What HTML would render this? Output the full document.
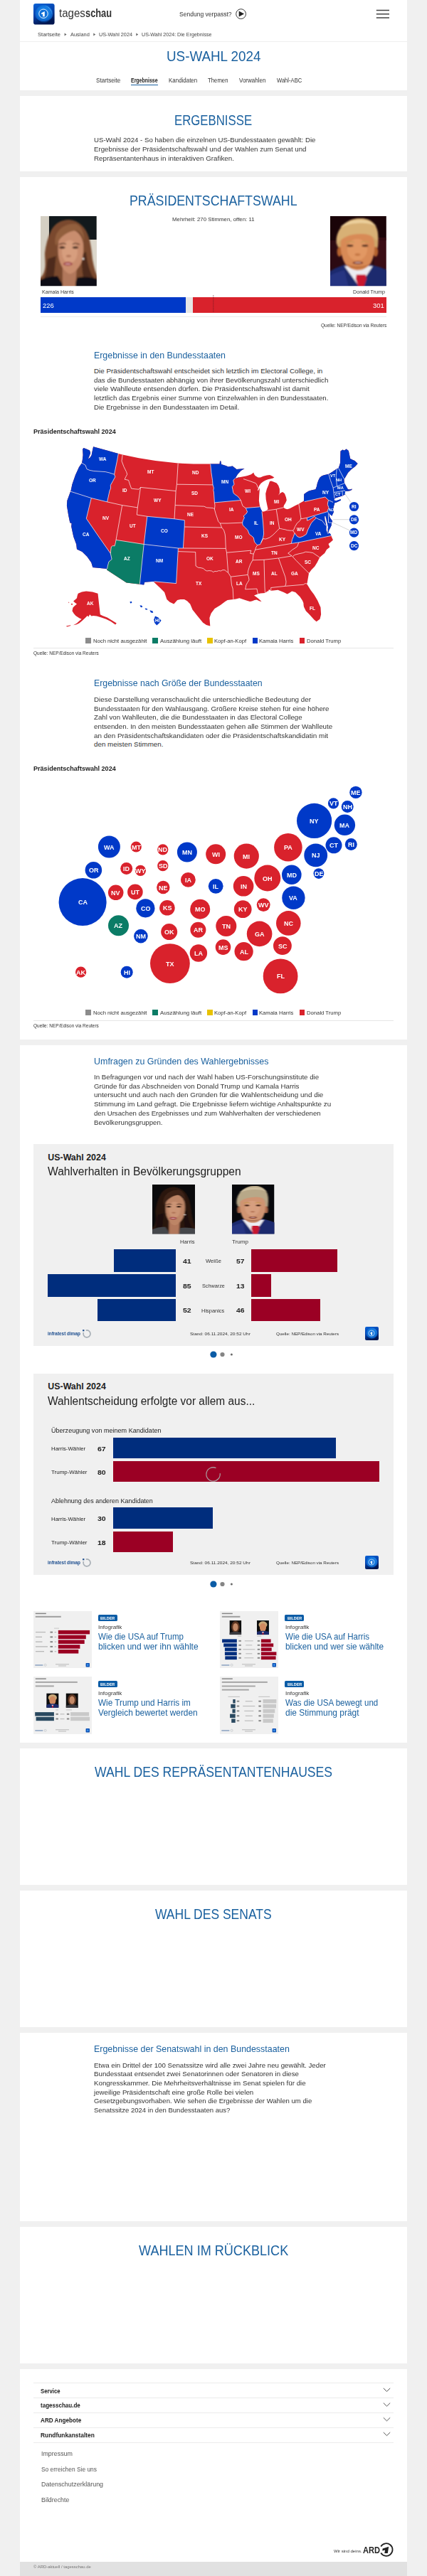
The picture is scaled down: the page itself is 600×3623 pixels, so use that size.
<!DOCTYPE html><html lang="de"><head><meta charset="utf-8"><title>US-Wahl 2024: Die Ergebnisse</title><style>
html,body{margin:0;padding:0}
body{width:600px;height:3623px;background:#f0f0f0;position:relative;overflow-x:hidden;font-family:"Liberation Sans",sans-serif}
.r{position:absolute}
.t{position:absolute;white-space:nowrap;line-height:1;transform-origin:0 0;display:block}
.ov{position:absolute;display:block;overflow:visible}
</style></head><body>
<div class="r" style="left:28px;top:0px;width:544px;height:127px;background:#fff;"></div>
<div class="r" style="left:28px;top:135px;width:544px;height:106px;background:#fff;"></div>
<div class="r" style="left:28px;top:249px;width:544px;height:1213px;background:#fff;"></div>
<div class="r" style="left:28px;top:1470px;width:544px;height:981px;background:#fff;"></div>
<div class="r" style="left:28px;top:2459px;width:544px;height:192px;background:#fff;"></div>
<div class="r" style="left:28px;top:2659px;width:544px;height:192px;background:#fff;"></div>
<div class="r" style="left:28px;top:2859px;width:544px;height:265px;background:#fff;"></div>
<div class="r" style="left:28px;top:3132px;width:544px;height:192px;background:#fff;"></div>
<div class="r" style="left:28px;top:3332px;width:544px;height:271px;background:#fff;"></div>
<div class="r" style="left:28px;top:3603px;width:544px;height:20px;background:#e1e1e1;"></div>
<div class="r" style="left:28px;top:58px;width:544px;height:1px;background:#efefef;"></div>
<div class="r" style="left:184.3px;top:118.6px;width:37.5px;height:1.4px;background:#1b619f;"></div>
<div class="r" style="left:57px;top:418.3px;width:204px;height:21.5px;background:#0039c8;"></div>
<div class="r" style="left:261px;top:418.3px;width:10px;height:21.5px;background:#e6e6e6;"></div>
<div class="r" style="left:271px;top:418.3px;width:272px;height:21.5px;background:#d9222c;"></div>
<div class="r" style="left:57px;top:445.2px;width:486px;height:1px;background:#ececec;"></div>
<div class="r" style="left:120.3px;top:896.7px;width:7.7px;height:7.9px;background:#8c8c8c;"></div>
<div class="r" style="left:214.4px;top:896.7px;width:7.7px;height:7.9px;background:#0b7c66;"></div>
<div class="r" style="left:290.9px;top:896.7px;width:7.7px;height:7.9px;background:#e8c200;"></div>
<div class="r" style="left:354.5px;top:896.7px;width:7.7px;height:7.9px;background:#0039c8;"></div>
<div class="r" style="left:420.6px;top:896.7px;width:7.7px;height:7.9px;background:#d9222c;"></div>
<div class="r" style="left:47px;top:911.1px;width:506px;height:1px;background:#e6e6e6;"></div>
<div class="r" style="left:120.3px;top:1420.2px;width:7.7px;height:7.9px;background:#8c8c8c;"></div>
<div class="r" style="left:214.4px;top:1420.2px;width:7.7px;height:7.9px;background:#0b7c66;"></div>
<div class="r" style="left:290.9px;top:1420.2px;width:7.7px;height:7.9px;background:#e8c200;"></div>
<div class="r" style="left:354.5px;top:1420.2px;width:7.7px;height:7.9px;background:#0039c8;"></div>
<div class="r" style="left:420.6px;top:1420.2px;width:7.7px;height:7.9px;background:#d9222c;"></div>
<div class="r" style="left:47px;top:1434.6000000000001px;width:506px;height:1px;background:#e6e6e6;"></div>
<div class="r" style="left:47px;top:1609.2px;width:506px;height:284px;background:#f0f0f0;"></div>
<div class="r" style="left:159.921px;top:1757.4px;width:86.879px;height:31.2px;background:#002d7d;"></div>
<div class="r" style="left:353.2px;top:1757.4px;width:120.441px;height:31.2px;background:#9b0024;"></div>
<div class="r" style="left:66.685px;top:1792.4px;width:180.115px;height:31.2px;background:#002d7d;"></div>
<div class="r" style="left:353.2px;top:1792.4px;width:27.469px;height:31.2px;background:#9b0024;"></div>
<div class="r" style="left:136.612px;top:1827.2px;width:110.18800000000002px;height:31.2px;background:#002d7d;"></div>
<div class="r" style="left:353.2px;top:1827.2px;width:97.198px;height:31.2px;background:#9b0024;"></div>
<div class="r" style="left:47px;top:1931.5px;width:506px;height:283.9px;background:#f0f0f0;"></div>
<div class="r" style="left:159.4px;top:2021.5px;width:312.75600000000003px;height:29.8px;background:#002d7d;"></div>
<div class="r" style="left:159.4px;top:2054.6px;width:373.44px;height:29.8px;background:#9b0024;"></div>
<div class="r" style="left:159.4px;top:2120.3px;width:140.04px;height:29.8px;background:#002d7d;"></div>
<div class="r" style="left:159.4px;top:2153.5px;width:84.024px;height:29.8px;background:#9b0024;"></div>
<div class="r" style="left:47px;top:2265.5px;width:81.5px;height:80.5px;background:#f0f0f0;"></div>
<div class="r" style="left:138.0px;top:2271.4px;width:27px;height:9px;background:#0b5ca6;border-radius:1.6px;"></div>
<div class="r" style="left:309px;top:2265.5px;width:81.5px;height:80.5px;background:#f0f0f0;"></div>
<div class="r" style="left:400.40000000000003px;top:2271.4px;width:27px;height:9px;background:#0b5ca6;border-radius:1.6px;"></div>
<div class="r" style="left:47px;top:2358.4px;width:81.5px;height:80.5px;background:#f0f0f0;"></div>
<div class="r" style="left:138.0px;top:2364.3px;width:27px;height:9px;background:#0b5ca6;border-radius:1.6px;"></div>
<div class="r" style="left:309px;top:2358.4px;width:81.5px;height:80.5px;background:#f0f0f0;"></div>
<div class="r" style="left:400.40000000000003px;top:2364.3px;width:27px;height:9px;background:#0b5ca6;border-radius:1.6px;"></div>
<div class="r" style="left:47.4px;top:3351.2px;width:505.4px;height:1px;background:#ebebeb;"></div>
<div class="r" style="left:47.4px;top:3372.2px;width:505.4px;height:1px;background:#ebebeb;"></div>
<div class="r" style="left:47.4px;top:3393.2px;width:505.4px;height:1px;background:#ebebeb;"></div>
<div class="r" style="left:47.4px;top:3414px;width:505.4px;height:1px;background:#ebebeb;"></div>
<div class="r" style="left:47.4px;top:3434.6px;width:505.4px;height:1px;background:#ebebeb;"></div>
<svg class="ov" style="left:47.3px;top:4.9px" width="29.6" height="29.6" viewBox="0 0 30 30">
<defs><linearGradient id="lga" x1="0" y1="0" x2="0.35" y2="1"><stop offset="0" stop-color="#0a63d8"/><stop offset="0.55" stop-color="#0440a8"/><stop offset="1" stop-color="#00164f"/></linearGradient>
<radialGradient id="rga" cx="0.5" cy="0.45" r="0.55"><stop offset="0" stop-color="#3aa0f5"/><stop offset="0.6" stop-color="#1580e6"/><stop offset="1" stop-color="#0a55c0"/></radialGradient></defs>
<rect x="0" y="0" width="30" height="30" rx="3.2" fill="url(#lga)"/>
<circle cx="15" cy="14.5" r="12.6" fill="url(#rga)" opacity="0.9"/>
<path d="M4 21 A12.6 12.6 0 0 0 27 19 A15 15 0 0 1 4 21Z" fill="#001a55" opacity="0.6"/>
<path d="M16 3.4 A11.5 11.5 0 0 1 26.5 16 A14 14 0 0 0 16 3.4Z" fill="#6fc2ff" opacity="0.7"/>
<path d="M5 9 A11.5 11.5 0 0 1 13 3.2 A14 14 0 0 0 5 9Z" fill="#58b0ff" opacity="0.6"/>
<circle cx="14.2" cy="14.4" r="6.3" fill="#0f6fd8" stroke="#eef6ff" stroke-width="1.0"/>
<path d="M11.4 13.4 L16 11.2 L16 18.4 L13.2 18.4 L13.2 14.8 L11.4 15.5Z" fill="#fff"/>
</svg>
<svg class="ov" style="left:513.4px;top:1866px" width="19" height="19" viewBox="0 0 30 30">
<defs><linearGradient id="lgb" x1="0" y1="0" x2="0.35" y2="1"><stop offset="0" stop-color="#0a63d8"/><stop offset="0.55" stop-color="#0440a8"/><stop offset="1" stop-color="#00164f"/></linearGradient>
<radialGradient id="rgb" cx="0.5" cy="0.45" r="0.55"><stop offset="0" stop-color="#3aa0f5"/><stop offset="0.6" stop-color="#1580e6"/><stop offset="1" stop-color="#0a55c0"/></radialGradient></defs>
<rect x="0" y="0" width="30" height="30" rx="3.2" fill="url(#lgb)"/>
<circle cx="15" cy="14.5" r="12.6" fill="url(#rgb)" opacity="0.9"/>
<path d="M4 21 A12.6 12.6 0 0 0 27 19 A15 15 0 0 1 4 21Z" fill="#001a55" opacity="0.6"/>
<path d="M16 3.4 A11.5 11.5 0 0 1 26.5 16 A14 14 0 0 0 16 3.4Z" fill="#6fc2ff" opacity="0.7"/>
<path d="M5 9 A11.5 11.5 0 0 1 13 3.2 A14 14 0 0 0 5 9Z" fill="#58b0ff" opacity="0.6"/>
<circle cx="14.2" cy="14.4" r="6.3" fill="#0f6fd8" stroke="#eef6ff" stroke-width="1.0"/>
<path d="M11.4 13.4 L16 11.2 L16 18.4 L13.2 18.4 L13.2 14.8 L11.4 15.5Z" fill="#fff"/>
</svg>
<svg class="ov" style="left:513.4px;top:2188.2px" width="19" height="19" viewBox="0 0 30 30">
<defs><linearGradient id="lgc" x1="0" y1="0" x2="0.35" y2="1"><stop offset="0" stop-color="#0a63d8"/><stop offset="0.55" stop-color="#0440a8"/><stop offset="1" stop-color="#00164f"/></linearGradient>
<radialGradient id="rgc" cx="0.5" cy="0.45" r="0.55"><stop offset="0" stop-color="#3aa0f5"/><stop offset="0.6" stop-color="#1580e6"/><stop offset="1" stop-color="#0a55c0"/></radialGradient></defs>
<rect x="0" y="0" width="30" height="30" rx="3.2" fill="url(#lgc)"/>
<circle cx="15" cy="14.5" r="12.6" fill="url(#rgc)" opacity="0.9"/>
<path d="M4 21 A12.6 12.6 0 0 0 27 19 A15 15 0 0 1 4 21Z" fill="#001a55" opacity="0.6"/>
<path d="M16 3.4 A11.5 11.5 0 0 1 26.5 16 A14 14 0 0 0 16 3.4Z" fill="#6fc2ff" opacity="0.7"/>
<path d="M5 9 A11.5 11.5 0 0 1 13 3.2 A14 14 0 0 0 5 9Z" fill="#58b0ff" opacity="0.6"/>
<circle cx="14.2" cy="14.4" r="6.3" fill="#0f6fd8" stroke="#eef6ff" stroke-width="1.0"/>
<path d="M11.4 13.4 L16 11.2 L16 18.4 L13.2 18.4 L13.2 14.8 L11.4 15.5Z" fill="#fff"/>
</svg>
<svg class="ov" style="left:328px;top:10px" width="22" height="20" viewBox="328 10 22 20">
<circle cx="338.6" cy="19.6" r="6.9" fill="none" stroke="#222" stroke-width="0.9"/>
<path d="M335.7 15.6 L343.1 19.6 L335.7 23.6Z" fill="#222"/></svg>
<svg class="ov" style="left:526px;top:10px" width="24" height="20" viewBox="526 10 24 20">
<path d="M528.8 14.5H547M528.8 19.7H547M528.8 24.9H547" stroke="#444" stroke-width="1.5" fill="none"/></svg>
<svg class="ov" style="left:80px;top:44px" width="130" height="10" viewBox="80 44 130 10"><path d="M90.6 46.5 L93.5 48.6 L90.6 50.6Z" fill="#666"/><path d="M131.3 46.5 L134.20000000000002 48.6 L131.3 50.6Z" fill="#666"/><path d="M191.3 46.5 L194.20000000000002 48.6 L191.3 50.6Z" fill="#666"/></svg>
<svg class="ov" style="left:298px;top:414px" width="4" height="26" viewBox="298 414 4 26">
<path d="M299.8 415V439" stroke="#5a1a22" stroke-width="0.7" stroke-dasharray="1 0.8" fill="none"/></svg>
<svg class="ov" style="left:536px;top:3350px" width="16" height="84" viewBox="536 3350 16 84"><path d="M538.8 3358.8999999999996 L543.5 3363.5 L548.2 3358.8999999999996" stroke="#555" stroke-width="1" fill="none"/><path d="M538.8 3379.6 L543.5 3384.2000000000003 L548.2 3379.6" stroke="#555" stroke-width="1" fill="none"/><path d="M538.8 3400.2999999999997 L543.5 3404.9 L548.2 3400.2999999999997" stroke="#555" stroke-width="1" fill="none"/><path d="M538.8 3421.0 L543.5 3425.6000000000004 L548.2 3421.0" stroke="#555" stroke-width="1" fill="none"/></svg>
<svg class="ov" style="left:530px;top:3574px" width="26" height="24" viewBox="530 3574 26 24">
<path d="M535.2 3581.5 A8.8 8.8 0 1 1 535.2 3590.5" stroke="#222" stroke-width="1.8" fill="none"/>
<path d="M537.6 3584.6 L546.2 3581.8 L544.8 3591 L540.3 3591 L541.1 3586.4 L537.3 3587.6Z" fill="#222"/></svg>
<svg class="ov" style="left:114px;top:1868.2px" width="16" height="16" viewBox="114 1868.2 16 16">
<path d="M120.8 1871.3 A5 5 0 1 1 117.4 1874.3" stroke="#a9b0b7" stroke-width="1.7" fill="none"/>
<rect x="116.1" y="1870.3" width="2.3" height="2.2" fill="#1f4f8c"/></svg>
<svg class="ov" style="left:114px;top:2190.3px" width="16" height="16" viewBox="114 2190.3 16 16">
<path d="M120.8 2193.4 A5 5 0 1 1 117.4 2196.4" stroke="#a9b0b7" stroke-width="1.7" fill="none"/>
<rect x="116.1" y="2192.4" width="2.3" height="2.2" fill="#1f4f8c"/></svg>
<svg class="ov" style="left:286px;top:2060px" width="28" height="28" viewBox="286 2060 28 28">
<path d="M303.5 2064.6 A9.7 9.7 0 1 0 309.2 2072.2" stroke="#a9969b" stroke-width="1.3" fill="none"/></svg>
<svg class="ov" style="left:57.2px;top:304.1px" width="78.8" height="98.2" viewBox="0 0 79 98" preserveAspectRatio="none">
<defs><filter id="blh1" x="-20%" y="-20%" width="140%" height="140%"><feGaussianBlur stdDeviation="1.1"/></filter><clipPath id="cph1"><rect width="79" height="98"/></clipPath></defs>
<g clip-path="url(#cph1)"><rect width="79" height="98" fill="#d4cfc3"/><rect x="12" y="0" width="67" height="33" fill="#12191c"/><rect x="70" y="33" width="9" height="45" fill="#dcd7cb"/>
<g filter="url(#blh1)">
<path d="M40 5 C30 5 20 10 15 20 C10 30 7 42 6 52 C6 62 8 70 5 78 C3 84 0 86 -2 88 L-2 100 L81 100 L81 86 C77 80 75 70 73 60 C72 48 70 36 68 30 C64 16 54 6 40 5Z" fill="#7a4a2d"/>
<path d="M10 60 C8 70 9 80 4 90 L16 96 C20 84 20 70 22 56Z" fill="#4e2c1b"/>
<path d="M64 50 C66 64 68 78 76 88 L62 94 C58 80 58 66 58 54Z" fill="#4e2c1b"/>
<path d="M-2 100 L-2 90 Q10 84 24 84 L34 100Z M81 100 L81 88 Q66 84 52 86 L46 100Z" fill="#0f1013"/>
<path d="M31 72 L31 100 L49 100 L51 72Z" fill="#b2785c"/>
<path d="M26 30 C24 42 24 55 27 64 C30 72 35 80 41 81 C47 80 53 74 57 66 C60 58 61 48 60 38 C58 26 50 19 42 19 C34 19 28 22 26 30Z" fill="#c98d6e"/>
<ellipse cx="41" cy="50" rx="11" ry="16" fill="#dda585" opacity="0.7"/>
<path d="M50 11 C40 10 28 14 22 26 C20 32 20 38 22 42 C26 30 36 22 50 20 C56 22 60 28 61 36 C62 24 58 14 50 11Z" fill="#925f3c"/>
<ellipse cx="38.5" cy="67" rx="6.5" ry="2.8" fill="#a2474a"/><ellipse cx="38.5" cy="67" rx="4" ry="1" fill="#f0dada" opacity="0.6"/>
<ellipse cx="30.5" cy="44" rx="4.2" ry="1.7" fill="#3a2016"/><ellipse cx="49" cy="44" rx="4.2" ry="1.7" fill="#3a2016"/>
<path d="M26 40 Q31 37 36 39.5 M45 39.5 Q50 37 55 40" stroke="#4a2a1c" stroke-width="1.2" fill="none"/>
<ellipse cx="39.5" cy="56" rx="3.6" ry="1.6" fill="#a86a50" opacity="0.8"/>
<circle cx="60" cy="60" r="1.3" fill="#f4f0ea"/>
</g></g></svg>
<svg class="ov" style="left:463.9px;top:304.1px" width="78.8" height="98.2" viewBox="0 0 79 98" preserveAspectRatio="none">
<defs><filter id="blt1" x="-20%" y="-20%" width="140%" height="140%"><feGaussianBlur stdDeviation="1.1"/></filter><clipPath id="cpt1"><rect width="79" height="98"/></clipPath></defs>
<g clip-path="url(#cpt1)"><rect width="79" height="98" fill="#2c0a12"/><rect width="79" height="34" fill="#140306" opacity="0.75"/><rect x="62" y="30" width="17" height="44" fill="#4a1018" opacity="0.5"/>
<g filter="url(#blt1)">
<path d="M-2 100 L-2 78 Q8 72 20 68 L58 68 Q70 71 81 76 L81 100Z" fill="#1f2b6e"/>
<path d="M-2 100 L-2 84 Q10 78 20 76 L26 100Z" fill="#2a3a90" opacity="0.6"/>
<path d="M20 70 L41 99 L60 70Z" fill="#ececf2"/>
<path d="M37 82 L50 82 L51 88 L47 100 L40 100 L36 88Z" fill="#c8142e"/>
<path d="M10 42 C6 22 20 3 42 3 C60 3 70 16 67 44 L60 50 L16 50Z" fill="#cfa468"/>
<ellipse cx="13" cy="50" rx="3.4" ry="7" fill="#b4622f"/><ellipse cx="64" cy="50" rx="3.4" ry="7" fill="#b4622f"/>
<path d="M15 36 C14 48 16 60 22 68 C28 74 34 76 39 76 C46 76 52 73 57 66 C62 58 63 46 62 36 C60 26 52 22 38 22 C24 22 16 26 15 36Z" fill="#d88a56"/>
<ellipse cx="38" cy="47" rx="14" ry="15" fill="#e8a06c" opacity="0.65"/>
<path d="M22 66 C28 76 50 76 56 66 C50 72 28 72 22 66Z" fill="#b4622f" opacity="0.7"/>
<path d="M9 40 C6 20 22 3 42 3 C60 3 70 14 67 36 C62 28 54 24 42 25 C28 25 16 30 9 40Z" fill="#d8b074"/>
<path d="M14 16 C24 3 54 1 65 14 C54 8 30 8 14 16Z" fill="#ecd09c"/>
<ellipse cx="39" cy="65.5" rx="7.5" ry="2.1" fill="#7e3426"/><ellipse cx="39" cy="65.2" rx="4.6" ry="0.9" fill="#f2e4e0" opacity="0.7"/>
<ellipse cx="28" cy="41.5" rx="4.6" ry="1.6" fill="#4e2a1c"/><ellipse cx="49" cy="41.5" rx="4.6" ry="1.6" fill="#4e2a1c"/>
<path d="M22 37 Q28 34.5 34 37 M43 37 Q49 34.5 55 37" stroke="#c89858" stroke-width="1.6" fill="none"/>
<ellipse cx="38.5" cy="54" rx="4" ry="1.8" fill="#b4622f" opacity="0.6"/>
</g></g></svg>
<svg class="ov" style="left:214px;top:1666px" width="60" height="69.4" viewBox="0 0 79 98" preserveAspectRatio="none">
<defs><filter id="blh2" x="-20%" y="-20%" width="140%" height="140%"><feGaussianBlur stdDeviation="1.1"/></filter><clipPath id="cph2"><rect width="79" height="98"/></clipPath></defs>
<g clip-path="url(#cph2)"><rect width="79" height="98" fill="#0a0a0c"/>
<g filter="url(#blh2)">
<path d="M40 5 C30 5 20 10 15 20 C10 30 7 42 6 52 C6 62 8 70 5 78 C3 84 0 86 -2 88 L-2 100 L81 100 L81 86 C77 80 75 70 73 60 C72 48 70 36 68 30 C64 16 54 6 40 5Z" fill="#2c1910"/>
<path d="M10 60 C8 70 9 80 4 90 L16 96 C20 84 20 70 22 56Z" fill="#1e100a"/>
<path d="M64 50 C66 64 68 78 76 88 L62 94 C58 80 58 66 58 54Z" fill="#1e100a"/>
<path d="M-2 100 L-2 90 Q10 84 24 84 L34 100Z M81 100 L81 88 Q66 84 52 86 L46 100Z" fill="#44464c"/>
<path d="M31 72 L31 100 L49 100 L51 72Z" fill="#b2785c"/>
<path d="M26 30 C24 42 24 55 27 64 C30 72 35 80 41 81 C47 80 53 74 57 66 C60 58 61 48 60 38 C58 26 50 19 42 19 C34 19 28 22 26 30Z" fill="#bd8566"/>
<ellipse cx="41" cy="50" rx="11" ry="16" fill="#d29a7a" opacity="0.7"/>
<path d="M50 11 C40 10 28 14 22 26 C20 32 20 38 22 42 C26 30 36 22 50 20 C56 22 60 28 61 36 C62 24 58 14 50 11Z" fill="#3e2418"/>
<ellipse cx="38.5" cy="67" rx="6.5" ry="2.8" fill="#a2474a"/><ellipse cx="38.5" cy="67" rx="4" ry="1" fill="#f0dada" opacity="0.6"/>
<ellipse cx="30.5" cy="44" rx="4.2" ry="1.7" fill="#3a2016"/><ellipse cx="49" cy="44" rx="4.2" ry="1.7" fill="#3a2016"/>
<path d="M26 40 Q31 37 36 39.5 M45 39.5 Q50 37 55 40" stroke="#4a2a1c" stroke-width="1.2" fill="none"/>
<ellipse cx="39.5" cy="56" rx="3.6" ry="1.6" fill="#a86a50" opacity="0.8"/>
<circle cx="60" cy="60" r="1.3" fill="#f4f0ea"/>
</g></g></svg>
<svg class="ov" style="left:326px;top:1666px" width="59.5" height="69.4" viewBox="0 0 79 98" preserveAspectRatio="none">
<defs><filter id="blt2" x="-20%" y="-20%" width="140%" height="140%"><feGaussianBlur stdDeviation="1.1"/></filter><clipPath id="cpt2"><rect width="79" height="98"/></clipPath></defs>
<g clip-path="url(#cpt2)"><rect width="79" height="98" fill="#07080c"/>
<g filter="url(#blt2)">
<path d="M-2 100 L-2 78 Q8 72 20 68 L58 68 Q70 71 81 76 L81 100Z" fill="#1f2b6e"/>
<path d="M-2 100 L-2 84 Q10 78 20 76 L26 100Z" fill="#2a3a90" opacity="0.6"/>
<path d="M20 70 L41 99 L60 70Z" fill="#ececf2"/>
<path d="M37 82 L50 82 L51 88 L47 100 L40 100 L36 88Z" fill="#c8142e"/>
<path d="M10 42 C6 22 20 3 42 3 C60 3 70 16 67 44 L60 50 L16 50Z" fill="#b3a284"/>
<ellipse cx="13" cy="50" rx="3.4" ry="7" fill="#a8684a"/><ellipse cx="64" cy="50" rx="3.4" ry="7" fill="#a8684a"/>
<path d="M15 36 C14 48 16 60 22 68 C28 74 34 76 39 76 C46 76 52 73 57 66 C62 58 63 46 62 36 C60 26 52 22 38 22 C24 22 16 26 15 36Z" fill="#cf9472"/>
<ellipse cx="38" cy="47" rx="14" ry="15" fill="#dba586" opacity="0.65"/>
<path d="M22 66 C28 76 50 76 56 66 C50 72 28 72 22 66Z" fill="#a8684a" opacity="0.7"/>
<path d="M9 40 C6 20 22 3 42 3 C60 3 70 14 67 36 C62 28 54 24 42 25 C28 25 16 30 9 40Z" fill="#b8a888"/>
<path d="M14 16 C24 3 54 1 65 14 C54 8 30 8 14 16Z" fill="#cfc0a0"/>
<ellipse cx="39" cy="65.5" rx="7.5" ry="2.1" fill="#7e3426"/><ellipse cx="39" cy="65.2" rx="4.6" ry="0.9" fill="#f2e4e0" opacity="0.7"/>
<ellipse cx="28" cy="41.5" rx="4.6" ry="1.6" fill="#4e2a1c"/><ellipse cx="49" cy="41.5" rx="4.6" ry="1.6" fill="#4e2a1c"/>
<path d="M22 37 Q28 34.5 34 37 M43 37 Q49 34.5 55 37" stroke="#c89858" stroke-width="1.6" fill="none"/>
<ellipse cx="38.5" cy="54" rx="4" ry="1.8" fill="#a8684a" opacity="0.6"/>
</g></g></svg>
<svg class="ov" style="left:85px;top:620px" width="430" height="270" viewBox="85 620 430 270">
<defs><clipPath id="usclip"><polygon points="116.1,631.8 117.5,630.0 121.5,631.6 126.0,633.6 127.2,636.9 125.6,641.5 123.8,645.6 126.6,643.4 128.6,640.2 129.6,635.0 131.1,628.3 148.5,633.0 166.3,637.9 172.2,639.5 195.1,644.2 218.5,648.0 250.2,651.5 272.0,652.4 295.7,652.6 308.6,652.6 309.0,648.4 310.3,648.4 311.0,653.1 317.3,655.0 320.8,656.6 326.7,655.4 332.5,660.1 338.0,659.6 343.6,659.0 338.6,662.0 334.0,667.0 330.4,672.9 335.0,671.6 340.5,670.4 344.6,669.8 347.8,668.9 352.8,667.3 355.2,665.4 356.3,664.6 357.0,666.8 358.5,668.9 362.6,671.4 365.9,671.4 370.0,669.8 374.9,668.4 379.0,668.1 382.3,669.4 385.4,671.5 383.1,672.8 379.8,673.5 376.5,674.3 373.2,675.6 370.0,677.2 366.7,679.7 364.3,683.0 362.7,687.0 361.9,690.8 363.8,688.5 365.0,686.0 364.6,691.5 364.2,697.6 363.9,704.2 365.0,711.6 366.7,716.5 368.6,719.6 370.8,719.4 374.9,718.1 376.5,715.7 375.4,710.7 373.7,702.5 373.2,694.3 374.9,687.8 377.3,682.0 379.0,677.0 381.0,676.6 384.7,677.8 388.8,679.5 391.3,682.9 392.9,687.8 392.9,693.5 391.0,696.8 393.0,694.6 394.6,693.0 397.3,691.9 400.0,694.3 401.9,699.3 402.8,703.4 401.1,707.5 399.0,710.7 398.3,713.8 401.0,715.6 403.6,716.2 407.0,715.2 410.4,713.4 415.0,711.0 419.8,708.7 423.0,706.8 427.0,704.4 427.2,695.0 431.0,692.2 434.0,690.6 438.5,689.2 443.4,688.2 445.0,684.0 445.8,680.0 447.4,675.5 449.3,671.8 452.0,669.6 455.1,668.3 458.5,667.4 461.9,666.8 467.5,663.2 473.3,659.3 475.6,658.4 477.2,654.0 478.1,650.8 478.3,642.0 478.5,634.6 481.4,632.5 483.8,633.6 486.7,631.6 489.8,633.9 491.0,639.5 492.1,644.9 495.5,646.8 498.5,648.0 502.6,651.9 500.5,654.5 498.5,656.6 493.8,660.1 489.1,664.8 485.6,670.7 483.5,674.2 483.6,677.0 484.0,679.6 486.0,683.0 487.4,685.6 489.0,688.3 492.0,688.6 494.6,687.6 494.3,689.0 491.5,690.2 488.6,690.8 486.6,690.8 485.0,691.2 485.0,695.2 481.6,697.2 476.0,698.9 470.6,700.8 469.0,703.3 472.0,704.4 478.4,702.3 479.0,703.6 474.0,706.0 470.0,707.6 468.3,707.4 468.1,706.5 470.0,708.7 469.0,712.0 468.5,714.4 469.0,720.0 466.2,725.6 464.0,723.6 461.0,720.6 462.4,723.8 463.4,727.5 467.2,733.1 466.2,735.0 465.3,739.7 463.4,743.4 461.8,747.0 460.6,751.8 460.6,746.0 461.0,741.0 460.0,737.0 459.0,733.0 458.0,728.0 456.0,726.8 456.6,731.0 458.0,736.6 458.6,741.0 458.4,745.0 459.6,748.6 461.0,750.8 463.6,750.0 465.3,753.5 467.9,759.4 464.6,762.6 461.5,765.0 463.4,769.4 459.0,773.0 456.2,778.1 452.0,781.6 449.2,784.0 445.7,791.0 442.2,796.8 437.5,801.5 434.0,806.2 432.8,813.2 431.6,820.3 430.8,821.0 431.5,821.8 436.4,829.8 441.3,836.3 446.2,844.5 450.5,854.3 451.1,864.2 449.5,870.7 444.6,874.2 441.3,871.4 434.8,864.2 429.8,859.3 427.0,853.4 426.6,851.1 426.4,848.0 424.9,844.5 421.6,839.6 415.1,833.0 410.2,831.6 406.5,834.0 403.6,835.5 398.7,833.0 390.5,829.8 384.0,830.4 380.7,830.7 378.0,829.0 377.0,831.6 375.7,831.6 372.5,834.0 366.0,834.6 362.6,835.3 357.0,837.6 360.0,839.4 362.6,841.6 366.0,844.6 367.5,846.3 364.3,845.2 360.6,843.6 357.7,843.9 354.0,845.6 351.1,846.1 344.6,843.9 336.4,841.2 331.5,842.6 327.9,842.9 323.5,843.4 319.7,843.9 316.4,846.1 309.8,851.1 301.6,856.0 296.7,862.5 294.4,869.1 295.3,880.6 290.0,879.0 285.2,875.7 277.0,865.8 270.5,857.6 267.2,849.4 263.0,845.2 259.0,842.9 253.5,843.0 249.2,843.9 244.3,849.4 238.5,846.8 234.4,842.9 231.1,833.0 224.6,826.5 216.6,819.0 216.7,817.8 203.3,818.7 202.2,822.4 196.3,821.7 177.6,819.4 150.1,801.6 150.6,800.0 130.0,797.9 130.0,797.0 128.3,791.3 122.5,783.1 115.4,776.1 108.0,772.6 107.2,765.5 103.3,755.0 101.9,748.5 100.2,740.4 100.6,736.0 98.6,735.4 97.9,733.3 96.2,725.1 93.9,711.1 94.4,704.1 99.1,691.2 99.5,690.6 101.4,681.2 106.0,668.0 111.0,657.0 115.0,651.2 115.8,647.0 116.6,640.0"/></clipPath></defs>
<polygon points="116.1,631.8 117.5,630.0 121.5,631.6 126.0,633.6 127.2,636.9 125.6,641.5 123.8,645.6 126.6,643.4 128.6,640.2 129.6,635.0 131.1,628.3 148.5,633.0 166.3,637.9 172.2,639.5 195.1,644.2 218.5,648.0 250.2,651.5 272.0,652.4 295.7,652.6 308.6,652.6 309.0,648.4 310.3,648.4 311.0,653.1 317.3,655.0 320.8,656.6 326.7,655.4 332.5,660.1 338.0,659.6 343.6,659.0 338.6,662.0 334.0,667.0 330.4,672.9 335.0,671.6 340.5,670.4 344.6,669.8 347.8,668.9 352.8,667.3 355.2,665.4 356.3,664.6 357.0,666.8 358.5,668.9 362.6,671.4 365.9,671.4 370.0,669.8 374.9,668.4 379.0,668.1 382.3,669.4 385.4,671.5 383.1,672.8 379.8,673.5 376.5,674.3 373.2,675.6 370.0,677.2 366.7,679.7 364.3,683.0 362.7,687.0 361.9,690.8 363.8,688.5 365.0,686.0 364.6,691.5 364.2,697.6 363.9,704.2 365.0,711.6 366.7,716.5 368.6,719.6 370.8,719.4 374.9,718.1 376.5,715.7 375.4,710.7 373.7,702.5 373.2,694.3 374.9,687.8 377.3,682.0 379.0,677.0 381.0,676.6 384.7,677.8 388.8,679.5 391.3,682.9 392.9,687.8 392.9,693.5 391.0,696.8 393.0,694.6 394.6,693.0 397.3,691.9 400.0,694.3 401.9,699.3 402.8,703.4 401.1,707.5 399.0,710.7 398.3,713.8 401.0,715.6 403.6,716.2 407.0,715.2 410.4,713.4 415.0,711.0 419.8,708.7 423.0,706.8 427.0,704.4 427.2,695.0 431.0,692.2 434.0,690.6 438.5,689.2 443.4,688.2 445.0,684.0 445.8,680.0 447.4,675.5 449.3,671.8 452.0,669.6 455.1,668.3 458.5,667.4 461.9,666.8 467.5,663.2 473.3,659.3 475.6,658.4 477.2,654.0 478.1,650.8 478.3,642.0 478.5,634.6 481.4,632.5 483.8,633.6 486.7,631.6 489.8,633.9 491.0,639.5 492.1,644.9 495.5,646.8 498.5,648.0 502.6,651.9 500.5,654.5 498.5,656.6 493.8,660.1 489.1,664.8 485.6,670.7 483.5,674.2 483.6,677.0 484.0,679.6 486.0,683.0 487.4,685.6 489.0,688.3 492.0,688.6 494.6,687.6 494.3,689.0 491.5,690.2 488.6,690.8 486.6,690.8 485.0,691.2 485.0,695.2 481.6,697.2 476.0,698.9 470.6,700.8 469.0,703.3 472.0,704.4 478.4,702.3 479.0,703.6 474.0,706.0 470.0,707.6 468.3,707.4 468.1,706.5 470.0,708.7 469.0,712.0 468.5,714.4 469.0,720.0 466.2,725.6 464.0,723.6 461.0,720.6 462.4,723.8 463.4,727.5 467.2,733.1 466.2,735.0 465.3,739.7 463.4,743.4 461.8,747.0 460.6,751.8 460.6,746.0 461.0,741.0 460.0,737.0 459.0,733.0 458.0,728.0 456.0,726.8 456.6,731.0 458.0,736.6 458.6,741.0 458.4,745.0 459.6,748.6 461.0,750.8 463.6,750.0 465.3,753.5 467.9,759.4 464.6,762.6 461.5,765.0 463.4,769.4 459.0,773.0 456.2,778.1 452.0,781.6 449.2,784.0 445.7,791.0 442.2,796.8 437.5,801.5 434.0,806.2 432.8,813.2 431.6,820.3 430.8,821.0 431.5,821.8 436.4,829.8 441.3,836.3 446.2,844.5 450.5,854.3 451.1,864.2 449.5,870.7 444.6,874.2 441.3,871.4 434.8,864.2 429.8,859.3 427.0,853.4 426.6,851.1 426.4,848.0 424.9,844.5 421.6,839.6 415.1,833.0 410.2,831.6 406.5,834.0 403.6,835.5 398.7,833.0 390.5,829.8 384.0,830.4 380.7,830.7 378.0,829.0 377.0,831.6 375.7,831.6 372.5,834.0 366.0,834.6 362.6,835.3 357.0,837.6 360.0,839.4 362.6,841.6 366.0,844.6 367.5,846.3 364.3,845.2 360.6,843.6 357.7,843.9 354.0,845.6 351.1,846.1 344.6,843.9 336.4,841.2 331.5,842.6 327.9,842.9 323.5,843.4 319.7,843.9 316.4,846.1 309.8,851.1 301.6,856.0 296.7,862.5 294.4,869.1 295.3,880.6 290.0,879.0 285.2,875.7 277.0,865.8 270.5,857.6 267.2,849.4 263.0,845.2 259.0,842.9 253.5,843.0 249.2,843.9 244.3,849.4 238.5,846.8 234.4,842.9 231.1,833.0 224.6,826.5 216.6,819.0 216.7,817.8 203.3,818.7 202.2,822.4 196.3,821.7 177.6,819.4 150.1,801.6 150.6,800.0 130.0,797.9 130.0,797.0 128.3,791.3 122.5,783.1 115.4,776.1 108.0,772.6 107.2,765.5 103.3,755.0 101.9,748.5 100.2,740.4 100.6,736.0 98.6,735.4 97.9,733.3 96.2,725.1 93.9,711.1 94.4,704.1 99.1,691.2 99.5,690.6 101.4,681.2 106.0,668.0 111.0,657.0 115.0,651.2 115.8,647.0 116.6,640.0" fill="#d9222c"/>
<g clip-path="url(#usclip)">
<polygon points="110.0,625.0 170.0,625.0 166.3,637.9 164.5,648.0 162.0,660.0 160.6,667.2 160.6,667.2 154.0,665.0 148.2,663.6 131.8,662.5 126.0,661.4 122.0,659.7 121.2,657.6 120.1,654.3 115.0,651.2 108.0,651.0" fill="#0039c8"/>
<polygon points="108.0,651.0 115.0,651.2 120.1,654.3 121.2,657.6 122.0,659.7 126.0,661.4 131.8,662.5 148.2,663.6 154.0,665.0 160.6,667.2 161.8,670.7 158.6,676.5 155.3,682.4 155.5,687.0 154.1,690.0 150.6,705.9 128.3,700.5 99.1,691.2 92.0,692.0 92.0,650.0" fill="#0039c8"/>
<polygon points="99.1,691.2 128.3,700.5 121.3,729.3 138.9,755.0 155.3,778.4 157.1,786.6 152.9,790.1 151.3,796.0 150.6,800.0 150.6,803.0 125.0,803.0 90.0,780.0 88.0,700.0 92.0,690.0" fill="#0039c8"/>
<polygon points="206.8,726.3 245.0,729.8 259.3,731.7 259.2,741.0 257.4,771.0 250.4,771.0 202.2,765.5" fill="#0039c8"/>
<polygon points="202.2,765.5 250.4,771.0 247.6,820.6 216.7,817.8 216.7,826.0 194.0,826.0 196.3,821.7" fill="#0039c8"/>
<polygon points="295.7,652.6 296.9,664.8 298.5,675.4 299.0,681.9 300.4,686.4 299.8,689.6 300.4,692.0 301.4,706.9 338.3,703.5 338.3,703.5 336.0,700.4 333.7,697.8 329.4,695.0 327.8,692.9 327.0,688.5 326.2,684.7 329.0,681.2 327.8,675.4 330.4,672.9 335.0,672.0 350.0,660.0 346.0,645.0 300.0,645.0 294.0,650.0" fill="#0039c8"/>
<polygon points="345.3,714.5 364.8,712.9 368.5,716.0 368.0,719.6 369.6,735.0 370.4,746.8 370.6,751.0 369.6,756.2 368.2,760.0 366.8,763.2 365.7,765.6 361.7,766.6 361.7,766.6 359.6,764.6 357.5,762.1 356.3,756.2 353.4,753.6 350.4,751.5 348.1,745.7 344.6,742.0 341.1,738.6 340.6,735.1 341.6,731.6 343.4,728.1 342.2,725.8 345.5,723.0 347.6,719.9 345.3,714.5" fill="#0039c8"/>
<polygon points="444.4,728.6 440.4,732.2 437.4,735.7 435.0,740.4 432.7,745.0 430.4,751.4 425.7,754.4 421.0,756.0 417.5,754.4 414.0,749.7 412.4,754.6 410.6,758.6 409.4,764.4 419.9,762.9 465.3,753.5 472.0,753.0 472.0,738.0 462.0,738.0 457.6,739.0 457.6,739.0 455.0,735.4 452.6,732.2 447.9,730.3 444.4,728.6" fill="#0039c8"/>
<polygon points="431.5,728.2 440.0,725.6 460.2,719.6 461.4,721.0 461.5,735.0 466.2,735.0 470.0,735.0 470.0,742.0 463.4,743.4 462.5,745.6 458.0,745.0 457.6,739.0 457.6,739.0 455.0,735.4 452.6,732.2 447.9,730.3 444.4,728.6 442.1,726.3 437.4,729.3 434.5,731.0 431.5,732.2 431.5,728.2" fill="#0039c8"/>
<polygon points="462.6,745.4 465.0,744.0 465.0,753.0 459.0,753.0 460.2,747.0" fill="#0039c8"/>
<polygon points="460.2,719.6 461.4,721.0 461.5,735.0 470.0,735.0 470.0,722.0 462.0,718.0" fill="#0039c8"/>
<polygon points="461.5,703.4 468.0,706.4 474.0,706.0 474.0,728.0 462.0,728.0 460.2,719.6 460.4,717.6 462.1,714.4 460.4,709.7 460.6,707.0" fill="#0039c8"/>
<polygon points="428.0,705.6 456.9,699.0 459.0,701.0 461.5,703.4 468.0,706.4 468.0,710.0 482.0,710.0 482.0,700.0 470.0,700.9 469.0,692.5 468.1,686.0 464.4,675.6 461.9,666.8 458.0,660.0 440.0,680.0 424.0,690.0 424.0,704.0" fill="#0039c8"/>
<polygon points="461.9,666.8 464.4,675.6 468.1,686.0 469.0,692.5 470.0,700.9 468.0,706.0 500.0,706.0 510.0,650.0 490.0,625.0 470.0,630.0 472.0,655.0" fill="#0039c8"/>
<polygon points="163.0,759.4 202.2,765.5 196.3,821.7 177.6,822.0 148.0,803.0 150.6,800.0 151.3,796.0 152.9,790.1 157.1,786.6 155.3,778.4 155.8,773.0 156.4,769.1 158.4,767.6 161.1,767.9 162.3,763.5 163.0,759.4" fill="#0b7c66"/>
<polygon points="456.0,726.4 457.4,726.0 459.0,733.0 460.0,737.0 461.0,741.0 460.6,746.0 460.8,751.6 459.6,748.6 458.4,745.0 458.6,741.0 458.0,736.6 456.6,731.0" fill="#fff"/>
<g fill="none" stroke="#fff" stroke-width="0.7" stroke-linejoin="round">
<polyline points="166.3,637.9 164.5,648.0 162.0,660.0 160.6,667.2"/>
<polyline points="115.0,651.2 120.1,654.3 121.2,657.6 122.0,659.7 126.0,661.4 131.8,662.5 148.2,663.6 154.0,665.0 160.6,667.2"/>
<polyline points="160.6,667.2 161.8,670.7 158.6,676.5 155.3,682.4 155.5,687.0 154.1,690.0 150.6,705.9"/>
<polyline points="99.1,691.2 128.3,700.5 150.6,705.9 171.7,710.6 193.3,713.9"/>
<polyline points="128.3,700.5 121.3,729.3 138.9,755.0 155.3,778.4"/>
<polyline points="155.3,778.4 157.1,786.6 152.9,790.1 151.3,796.0 150.6,800.0"/>
<polyline points="163.0,759.4 162.3,763.5 161.1,767.9 158.4,767.6 156.4,769.1 155.8,773.0 155.3,778.4"/>
<polyline points="171.7,710.6 163.0,759.4"/>
<polyline points="172.2,639.5 171.0,648.4 174.1,656.6 177.6,663.6 178.7,667.2 176.8,670.5 175.2,674.2 180.6,675.4 182.4,681.0 184.6,687.1 190.0,687.8 195.1,688.2 197.5,685.4"/>
<polyline points="197.5,685.4 193.3,713.9"/>
<polyline points="193.3,713.9 192.3,724.0 206.8,726.3"/>
<polyline points="206.8,726.3 245.0,729.8"/>
<polyline points="197.5,685.4 247.1,690.6"/>
<polyline points="250.2,651.5 248.4,681.2 247.1,690.6 246.1,710.6 245.0,729.8"/>
<polyline points="248.4,681.2 299.0,681.9"/>
<polyline points="295.7,652.6 296.9,664.8 298.5,675.4 299.0,681.9"/>
<polyline points="299.0,681.9 300.4,686.4 299.8,689.6 300.4,692.0 301.4,706.9"/>
<polyline points="246.1,710.6 286.8,712.2 290.4,713.9 295.0,714.2 299.7,714.6 301.4,716.2"/>
<polyline points="301.4,706.9 302.0,711.0 301.4,716.2"/>
<polyline points="301.4,716.2 303.2,722.8 305.0,728.0 306.7,733.3 309.3,736.0 311.6,742.0"/>
<polyline points="206.8,726.3 202.2,765.5"/>
<polyline points="163.0,759.4 202.2,765.5"/>
<polyline points="202.2,765.5 250.4,771.0 257.4,771.0 317.3,771.4"/>
<polyline points="202.2,765.5 196.3,821.7"/>
<polyline points="245.0,729.8 259.3,731.7 259.2,741.0 257.4,771.0"/>
<polyline points="259.2,741.0 311.6,742.0"/>
<polyline points="250.4,771.0 247.6,820.6"/>
<polyline points="247.6,820.6 216.7,817.8"/>
<polyline points="250.4,775.6 274.7,776.5 275.1,796.0 278.6,798.3 282.0,798.6 285.7,799.5 288.0,801.6 290.4,803.0 294.0,802.6 297.4,803.0 299.7,804.6 302.0,803.4 304.4,803.7 307.5,802.6 310.3,803.0 313.0,801.6 316.1,801.8 318.0,803.6 319.6,804.6 320.6,805.4 324.3,811.2"/>
<polyline points="311.6,742.0 314.5,745.7 316.1,750.9 316.6,755.0 317.3,771.4 318.5,777.2 320.6,805.4"/>
<polyline points="301.4,706.9 338.3,703.5"/>
<polyline points="330.4,672.9 327.8,675.4 329.0,681.2 326.2,684.7 327.0,688.5 327.8,692.9 329.4,695.0 333.7,697.8 336.0,700.4 338.3,703.5"/>
<polyline points="338.3,703.5 339.6,707.6 341.1,711.7 345.3,714.5"/>
<polyline points="345.3,714.5 364.8,712.9"/>
<polyline points="342.0,673.6 350.0,676.2 359.3,679.6 361.0,682.0 362.4,686.0"/>
<polyline points="345.3,714.5 347.6,719.9 345.5,723.0 342.2,725.8 343.4,728.1 341.6,731.6 340.6,735.1"/>
<polyline points="309.3,736.0 320.0,736.0 340.6,735.1"/>
<polyline points="340.6,735.1 341.1,738.6 344.6,742.0 348.1,745.7 350.4,751.5 353.4,753.6 356.3,756.2 357.5,762.1 359.6,764.6 361.7,766.6 359.8,769.6 358.6,773.3"/>
<polyline points="368.0,719.6 369.6,735.0 370.4,746.8 370.6,751.0 369.6,756.2 368.2,760.0 366.8,763.2"/>
<polyline points="366.8,763.2 365.7,765.6 361.7,766.6"/>
<polyline points="366.8,763.2 369.6,757.6 373.4,758.1 378.5,756.2 383.2,752.7 386.4,749.6 389.1,746.8 392.6,743.2"/>
<polyline points="374.9,718.1 388.2,716.2 398.3,713.8"/>
<polyline points="388.2,716.2 392.6,743.2"/>
<polyline points="392.6,743.2 394.9,743.6 397.6,744.3 400.8,744.8 403.4,745.7 407.8,746.2 409.3,746.2 411.6,746.0"/>
<polyline points="411.6,746.0 412.8,745.0 414.7,740.4 417.5,735.7 421.7,732.2 422.9,728.8"/>
<polyline points="419.8,708.7 422.9,728.8 423.3,729.8"/>
<polyline points="423.3,729.8 431.5,728.2 440.0,725.6 460.2,719.6"/>
<polyline points="431.5,728.2 431.5,732.2 434.5,731.0 437.4,729.3 442.1,726.3 444.4,728.6"/>
<polyline points="444.4,728.6 440.4,732.2 437.4,735.7 435.0,740.4 432.7,745.0 430.4,751.4 425.7,754.4 421.0,756.0 417.5,754.4 414.0,749.7"/>
<polyline points="414.0,749.7 412.6,748.0 411.6,746.0"/>
<polyline points="414.0,749.7 412.4,754.6 410.6,758.6 409.4,764.4"/>
<polyline points="358.6,773.3 361.0,772.8 409.4,764.4 419.9,762.9 465.3,753.5"/>
<polyline points="318.5,777.2 352.8,774.2 351.6,778.4 356.3,779.1 358.6,773.3"/>
<polyline points="356.3,779.1 355.6,783.0 355.1,787.8 352.0,793.0 350.0,798.3 348.6,803.0 348.1,808.4 349.4,811.6 350.0,815.9 347.6,819.6 345.8,822.9 345.3,826.0 344.6,828.8 361.0,828.1 361.6,832.0 362.6,835.3"/>
<polyline points="324.3,811.2 348.1,808.4"/>
<polyline points="324.3,811.2 325.0,818.0 325.5,822.9 327.2,828.1 327.6,836.0 327.9,842.9"/>
<polyline points="355.1,787.8 371.0,787.3 391.4,785.0 410.2,781.9"/>
<polyline points="371.0,787.3 372.0,826.0 372.5,834.0"/>
<polyline points="391.4,785.0 396.0,798.0 400.8,811.2 402.0,818.0 401.6,822.0 400.4,824.4"/>
<polyline points="380.7,830.7 380.7,826.5 400.4,824.4 426.6,822.2 428.6,820.6 430.8,821.0"/>
<polyline points="419.9,762.9 417.6,768.7 414.0,771.2 410.5,773.4 407.5,776.0 404.7,778.1 410.2,781.9"/>
<polyline points="411.0,782.8 414.1,780.4 420.0,778.8 425.8,777.6 429.3,776.2 434.5,776.6 439.8,777.6 449.2,784.0"/>
<polyline points="411.0,782.8 416.4,788.6 423.4,795.7 430.4,802.7 434.0,806.2"/>
<polyline points="444.4,728.6 447.9,730.3 452.6,732.2 455.0,735.4 457.6,739.0"/>
<polyline points="428.0,705.6 456.9,699.0 459.0,701.0 461.5,703.4 460.6,707.0 460.4,709.7 462.1,714.4 460.4,717.6 460.2,719.6"/>
<polyline points="461.5,703.4 468.0,706.4"/>
<polyline points="460.2,719.6 461.4,721.0 461.5,735.0 466.2,735.0"/>
<polyline points="461.9,666.8 464.4,675.6 468.1,686.0 469.0,692.5 470.0,700.9"/>
<polyline points="473.3,659.3 472.2,670.0 473.4,684.0"/>
<polyline points="475.6,658.4 483.5,673.7"/>
<polyline points="468.1,686.0 473.4,684.0 483.8,679.8"/>
<polyline points="469.0,692.5 480.8,690.6 484.2,689.8 485.0,691.2"/>
<polyline points="480.8,690.6 481.6,697.2"/>
</g></g>
<polygon points="121.1,831.5 115.0,832.6 109.7,834.8 108.6,838.0 108.0,841.3 105.5,843.5 103.1,845.6 105.5,847.8 108.0,849.5 105.0,852.0 102.5,854.4 101.5,859.3 103.6,862.8 106.4,865.9 111.3,869.2 114.6,870.8 111.0,873.8 108.0,876.4 103.1,879.2 107.6,878.2 111.3,876.4 115.5,873.0 119.5,869.2 122.8,865.9 124.4,867.6 126.1,864.3 128.6,866.4 131.0,865.9 135.9,866.6 142.5,868.5 149.0,870.8 155.6,874.1 162.1,878.4 163.8,876.4 157.2,872.5 150.7,868.5 144.1,865.9 140.8,864.3 137.5,834.8 130.0,832.6" fill="#d9222c"/>
<polygon points="100.6,848.8 102.4,849.6 101.2,851 99.6,850" fill="#d9222c"/><polygon points="96,846.6 97.4,847.2 96.6,848.2" fill="#d9222c"/><polygon points="93,880.6 99,879.2 99.4,880 94,881.4" fill="#d9222c"/>
<g fill="#0039c8"><polygon points="182.4,846.4 184.8,845.8 185.4,848 183.2,848.4"/><polygon points="196.4,851.6 199,851.4 200.4,853.8 198,854.2"/><polygon points="203.6,855.4 206.6,856 207.4,857.6 204.6,857.4"/><polygon points="210.4,858.2 214.6,859.6 215.2,862 212,861.4"/><polygon points="218.0,866.6 222.4,868.6 226.6,872.8 223.6,876.4 220.3,879.4 217.2,876 216.2,871.6"/></g>
<g fill="none" stroke="#c4c4c4" stroke-width="0.7"><path d="M484 693.4L493 706.5M468.1 730.7H491M467.7 735L491 745.8"/></g>
<circle cx="497.5" cy="712.5" r="6.6" fill="#0039c8"/>
<circle cx="497.5" cy="730.8" r="6.6" fill="#0039c8"/>
<circle cx="497.5" cy="749.2" r="6.6" fill="#0039c8"/>
<circle cx="497.5" cy="767.6" r="6.6" fill="#0039c8"/>
</svg>
<svg class="ov" style="left:47.1px;top:2265.8px" width="81.4" height="80.8" viewBox="47.1 2265.8 81.4 80.8"><defs><filter id="tb472265"><feGaussianBlur stdDeviation="0.35"/></filter></defs><g filter="url(#tb472265)"><rect x="49.9" y="2268.4" width="15" height="1.5" fill="#222" opacity="0.51"/><rect x="49.9" y="2272.6000000000004" width="36" height="2.0" fill="#333" opacity="0.42"/><rect x="76.1" y="2289.4" width="7" height="1.0" fill="#666" opacity="0.30"/><rect x="81.9" y="2292.70" width="44.3" height="5.5" fill="#9b0024"/><rect x="50.1" y="2294.7" width="14" height="1.3" fill="#555" opacity="0.36"/><rect x="70.6" y="2294.3999999999996" width="3.6" height="2.0" fill="#222" opacity="0.51"/><rect x="76.7" y="2294.7999999999997" width="2.6" height="1.2" fill="#555" opacity="0.36"/><rect x="81.9" y="2299.48" width="39.0" height="5.5" fill="#9b0024"/><rect x="50.1" y="2301.48" width="9" height="1.3" fill="#555" opacity="0.36"/><rect x="70.6" y="2301.18" width="3.6" height="2.0" fill="#222" opacity="0.51"/><rect x="76.7" y="2301.58" width="2.6" height="1.2" fill="#555" opacity="0.36"/><rect x="81.9" y="2306.26" width="36.9" height="5.5" fill="#9b0024"/><rect x="50.1" y="2308.2599999999998" width="9.5" height="1.3" fill="#555" opacity="0.36"/><rect x="70.6" y="2307.9599999999996" width="3.6" height="2.0" fill="#222" opacity="0.51"/><rect x="76.7" y="2308.3599999999997" width="2.6" height="1.2" fill="#555" opacity="0.36"/><rect x="81.9" y="2313.04" width="30.6" height="5.5" fill="#9b0024"/><rect x="50.1" y="2315.04" width="17" height="1.3" fill="#555" opacity="0.36"/><rect x="70.6" y="2314.74" width="3.6" height="2.0" fill="#222" opacity="0.51"/><rect x="76.7" y="2315.14" width="2.6" height="1.2" fill="#555" opacity="0.36"/><rect x="81.9" y="2319.82" width="28.5" height="5.5" fill="#9b0024"/><rect x="50.1" y="2321.8199999999997" width="12" height="1.3" fill="#555" opacity="0.36"/><rect x="70.6" y="2321.5199999999995" width="3.6" height="2.0" fill="#222" opacity="0.51"/><rect x="76.7" y="2321.9199999999996" width="2.6" height="1.2" fill="#555" opacity="0.36"/><rect x="49.4" y="2341.0" width="11" height="1.5" fill="#1f4f8c" opacity="0.48"/><circle cx="63.7" cy="2341.6000000000004" r="1.5" fill="none" stroke="#a9b0b7" stroke-width="0.5"/><rect x="78.1" y="2340.0" width="19" height="1.1" fill="#555" opacity="0.33"/><rect x="82.1" y="2342.2000000000003" width="11" height="1.1" fill="#555" opacity="0.33"/><rect x="120.69999999999999" y="2338.8" width="5.4" height="5.4" rx="0.7" fill="#0a4fb4"/><circle cx="123.39999999999999" cy="2341.5" r="1.4580000000000002" fill="#3b93ea"/></g></svg>
<svg class="ov" style="left:309.2px;top:2265.8px" width="81.4" height="80.8" viewBox="309.2 2265.8 81.4 80.8"><defs><filter id="tb3092265"><feGaussianBlur stdDeviation="0.35"/></filter></defs><g filter="url(#tb3092265)"><rect x="312.0" y="2268.4" width="15" height="1.5" fill="#222" opacity="0.51"/><rect x="312.0" y="2272.6000000000004" width="25.6" height="2.0" fill="#333" opacity="0.42"/><rect x="322.9" y="2278.9" width="16.4" height="20" fill="#0b0b0d"/><ellipse cx="331.09999999999997" cy="2287.9" rx="5.903999999999999" ry="8.0" fill="#5a3420"/><ellipse cx="331.09999999999997" cy="2288.3" rx="3.6079999999999997" ry="5.6000000000000005" fill="#c48a68"/><path d="M322.9 2298.9 L322.9 2296.1 Q331.09999999999997 2292.9 339.29999999999995 2296.1 L339.29999999999995 2298.9Z" fill="#3a3a40"/><rect x="361.2" y="2278.9" width="16.9" height="20" fill="#07080c"/><ellipse cx="369.65" cy="2284.9" rx="6.084" ry="4.8" fill="#c9a878"/><ellipse cx="369.65" cy="2288.9" rx="4.563" ry="6.0" fill="#d08a60"/><path d="M361.2 2298.9 L361.2 2294.9 Q369.65 2292.1 378.09999999999997 2294.9 L378.09999999999997 2298.9Z" fill="#1c2a6a"/><path d="M368.298 2294.9 L371.002 2294.9 L369.65 2298.9Z" fill="#e8e8ee"/><rect x="368.974" y="2296.1" width="1.521" height="2.8000000000000003" fill="#c4122c"/><rect x="334" y="2300.4" width="5.4" height="1.0" fill="#555" opacity="0.30"/><rect x="361.4" y="2300.4" width="6" height="1.0" fill="#555" opacity="0.30"/><rect x="312.3" y="2305.20" width="20.7" height="4.85" fill="#002d7d"/><rect x="367.1" y="2305.20" width="13.7" height="4.85" fill="#9b0024"/><rect x="335.6" y="2306.7" width="3.4" height="1.9" fill="#222" opacity="0.51"/><rect x="362.0" y="2306.7" width="3.4" height="1.9" fill="#222" opacity="0.51"/><rect x="344" y="2307.1" width="12" height="1.1" fill="#555" opacity="0.33"/><rect x="314.4" y="2311.18" width="18.6" height="4.85" fill="#002d7d"/><rect x="367.1" y="2311.18" width="17.3" height="4.85" fill="#9b0024"/><rect x="335.6" y="2312.68" width="3.4" height="1.9" fill="#222" opacity="0.51"/><rect x="362.0" y="2312.68" width="3.4" height="1.9" fill="#222" opacity="0.51"/><rect x="345.5" y="2313.08" width="9" height="1.1" fill="#555" opacity="0.33"/><rect x="316.1" y="2317.16" width="16.9" height="4.85" fill="#002d7d"/><rect x="367.1" y="2317.16" width="14.8" height="4.85" fill="#9b0024"/><rect x="335.6" y="2318.66" width="3.4" height="1.9" fill="#222" opacity="0.51"/><rect x="362.0" y="2318.66" width="3.4" height="1.9" fill="#222" opacity="0.51"/><rect x="341.5" y="2319.06" width="17" height="1.1" fill="#555" opacity="0.33"/><rect x="316.1" y="2323.14" width="16.9" height="4.85" fill="#002d7d"/><rect x="367.1" y="2323.14" width="21.5" height="4.85" fill="#9b0024"/><rect x="335.6" y="2324.64" width="3.4" height="1.9" fill="#222" opacity="0.51"/><rect x="362.0" y="2324.64" width="3.4" height="1.9" fill="#222" opacity="0.51"/><rect x="345.5" y="2325.04" width="9" height="1.1" fill="#555" opacity="0.33"/><rect x="316.5" y="2329.12" width="16.5" height="4.85" fill="#002d7d"/><rect x="367.1" y="2329.12" width="20.7" height="4.85" fill="#9b0024"/><rect x="335.6" y="2330.62" width="3.4" height="1.9" fill="#222" opacity="0.51"/><rect x="362.0" y="2330.62" width="3.4" height="1.9" fill="#222" opacity="0.51"/><rect x="343.5" y="2331.02" width="13" height="1.1" fill="#555" opacity="0.33"/><rect x="311.5" y="2341.0" width="11" height="1.5" fill="#1f4f8c" opacity="0.48"/><circle cx="325.8" cy="2341.6000000000004" r="1.5" fill="none" stroke="#a9b0b7" stroke-width="0.5"/><rect x="340.2" y="2340.0" width="19" height="1.1" fill="#555" opacity="0.33"/><rect x="344.2" y="2342.2000000000003" width="11" height="1.1" fill="#555" opacity="0.33"/><rect x="382.79999999999995" y="2338.8" width="5.4" height="5.4" rx="0.7" fill="#0a4fb4"/><circle cx="385.49999999999994" cy="2341.5" r="1.4580000000000002" fill="#3b93ea"/></g></svg>
<svg class="ov" style="left:47.1px;top:2358.3px" width="81.4" height="80.8" viewBox="47.1 2358.3 81.4 80.8"><defs><filter id="tb472358"><feGaussianBlur stdDeviation="0.35"/></filter></defs><g filter="url(#tb472358)"><rect x="49.9" y="2360.7000000000003" width="15" height="1.5" fill="#222" opacity="0.51"/><rect x="49.9" y="2365.2000000000003" width="59" height="2.0" fill="#333" opacity="0.39"/><rect x="49.9" y="2370.7000000000003" width="26" height="2.0" fill="#333" opacity="0.39"/><rect x="65.5" y="2382" width="16.9" height="20" fill="#07080c"/><ellipse cx="73.95" cy="2388.0" rx="6.084" ry="4.8" fill="#c9a878"/><ellipse cx="73.95" cy="2392.0" rx="4.563" ry="6.0" fill="#d08a60"/><path d="M65.5 2402 L65.5 2398.0 Q73.95 2395.2 82.4 2398.0 L82.4 2402Z" fill="#1c2a6a"/><path d="M72.598 2398.0 L75.30199999999999 2398.0 L73.95 2402Z" fill="#e8e8ee"/><rect x="73.274" y="2399.2" width="1.521" height="2.8000000000000003" fill="#c4122c"/><rect x="92.9" y="2382" width="16.9" height="20" fill="#0b0b0d"/><ellipse cx="101.35000000000001" cy="2391.0" rx="6.084" ry="8.0" fill="#5a3420"/><ellipse cx="101.35000000000001" cy="2391.4" rx="3.7179999999999995" ry="5.6000000000000005" fill="#c48a68"/><path d="M92.9 2402 L92.9 2399.2 Q101.35000000000001 2396.0 109.80000000000001 2399.2 L109.80000000000001 2402Z" fill="#3a3a40"/><rect x="78.4" y="2404.7000000000003" width="3.6" height="1.0" fill="#555" opacity="0.30"/><rect x="93" y="2404.7000000000003" width="8" height="1.0" fill="#555" opacity="0.30"/><rect x="49.3" y="2408.40" width="26.7" height="5.4" fill="#2b4a60"/><rect x="99.2" y="2408.40" width="26.0" height="5.4" fill="#c9c9c9"/><rect x="78.6" y="2410.1" width="3.4" height="2.0" fill="#222" opacity="0.51"/><rect x="94.0" y="2410.1" width="3.4" height="2.0" fill="#222" opacity="0.51"/><rect x="84.6" y="2410.5" width="6" height="1.2" fill="#555" opacity="0.33"/><rect x="50.7" y="2415.10" width="25.3" height="5.4" fill="#2b4a60"/><rect x="99.2" y="2415.10" width="27.0" height="5.4" fill="#c9c9c9"/><rect x="78.6" y="2416.7999999999997" width="3.4" height="2.0" fill="#222" opacity="0.51"/><rect x="94.0" y="2416.7999999999997" width="3.4" height="2.0" fill="#222" opacity="0.51"/><rect x="84.6" y="2417.2" width="6" height="1.2" fill="#555" opacity="0.33"/><rect x="49.4" y="2433.5" width="11" height="1.5" fill="#1f4f8c" opacity="0.48"/><circle cx="63.7" cy="2434.1000000000004" r="1.5" fill="none" stroke="#a9b0b7" stroke-width="0.5"/><rect x="78.1" y="2432.5" width="19" height="1.1" fill="#555" opacity="0.33"/><rect x="82.1" y="2434.7000000000003" width="11" height="1.1" fill="#555" opacity="0.33"/><rect x="120.69999999999999" y="2431.3" width="5.4" height="5.4" rx="0.7" fill="#0a4fb4"/><circle cx="123.39999999999999" cy="2434.0" r="1.4580000000000002" fill="#3b93ea"/></g></svg>
<svg class="ov" style="left:309.2px;top:2358.3px" width="81.4" height="80.8" viewBox="309.2 2358.3 81.4 80.8"><defs><filter id="tb3092358"><feGaussianBlur stdDeviation="0.35"/></filter></defs><g filter="url(#tb3092358)"><rect x="312.0" y="2360.7000000000003" width="15" height="1.5" fill="#222" opacity="0.51"/><rect x="312.0" y="2365.2000000000003" width="64" height="2.0" fill="#333" opacity="0.39"/><rect x="312.0" y="2370.8" width="47" height="2.0" fill="#333" opacity="0.39"/><rect x="312.0" y="2375.9" width="38" height="2.0" fill="#333" opacity="0.39"/><rect x="320.6" y="2386.2000000000003" width="16.5" height="1.0" fill="#555" opacity="0.30"/><rect x="363.4" y="2386.2000000000003" width="16" height="1.0" fill="#555" opacity="0.30"/><rect x="327.5" y="2390.30" width="3.4" height="5.5" fill="#2b4a60"/><rect x="369.7" y="2390.30" width="18.9" height="5.5" fill="#c9c9c9"/><rect x="333.0" y="2392.0" width="3.4" height="2.0" fill="#222" opacity="0.51"/><rect x="363.6" y="2392.0" width="3.4" height="2.0" fill="#222" opacity="0.51"/><rect x="345" y="2392.4" width="10" height="1.2" fill="#555" opacity="0.33"/><rect x="324.5" y="2397.16" width="6.4" height="5.5" fill="#2b4a60"/><rect x="369.7" y="2397.16" width="18.5" height="5.5" fill="#c9c9c9"/><rect x="333.0" y="2398.86" width="3.4" height="2.0" fill="#222" opacity="0.51"/><rect x="363.6" y="2398.86" width="3.4" height="2.0" fill="#222" opacity="0.51"/><rect x="341.5" y="2399.26" width="17" height="1.2" fill="#555" opacity="0.33"/><rect x="326.7" y="2404.02" width="4.2" height="5.5" fill="#2b4a60"/><rect x="369.7" y="2404.02" width="16.8" height="5.5" fill="#c9c9c9"/><rect x="333.0" y="2405.72" width="3.4" height="2.0" fill="#222" opacity="0.51"/><rect x="363.6" y="2405.72" width="3.4" height="2.0" fill="#222" opacity="0.51"/><rect x="343.5" y="2406.12" width="13" height="1.2" fill="#555" opacity="0.33"/><rect x="323.3" y="2410.88" width="7.6" height="5.5" fill="#2b4a60"/><rect x="369.7" y="2410.88" width="15.3" height="5.5" fill="#c9c9c9"/><rect x="333.0" y="2412.58" width="3.4" height="2.0" fill="#222" opacity="0.51"/><rect x="363.6" y="2412.58" width="3.4" height="2.0" fill="#222" opacity="0.51"/><rect x="345" y="2412.98" width="10" height="1.2" fill="#555" opacity="0.33"/><rect x="325.4" y="2417.74" width="5.5" height="5.5" fill="#2b4a60"/><rect x="369.7" y="2417.74" width="14.3" height="5.5" fill="#c9c9c9"/><rect x="333.0" y="2419.44" width="3.4" height="2.0" fill="#222" opacity="0.51"/><rect x="363.6" y="2419.44" width="3.4" height="2.0" fill="#222" opacity="0.51"/><rect x="344" y="2419.84" width="12" height="1.2" fill="#555" opacity="0.33"/><rect x="311.5" y="2433.5" width="11" height="1.5" fill="#1f4f8c" opacity="0.48"/><circle cx="325.8" cy="2434.1000000000004" r="1.5" fill="none" stroke="#a9b0b7" stroke-width="0.5"/><rect x="340.2" y="2432.5" width="19" height="1.1" fill="#555" opacity="0.33"/><rect x="344.2" y="2434.7000000000003" width="11" height="1.1" fill="#555" opacity="0.33"/><rect x="382.79999999999995" y="2431.3" width="5.4" height="5.4" rx="0.7" fill="#0a4fb4"/><circle cx="385.49999999999994" cy="2434.0" r="1.4580000000000002" fill="#3b93ea"/></g></svg>
<svg class="ov" style="left:0;top:1090px" width="600" height="320" viewBox="0 1090 600 320"><circle cx="153.4" cy="1191" r="15.5" fill="#0039c8"/><circle cx="191.3" cy="1191" r="7.6" fill="#d9222c"/><circle cx="228.8" cy="1194.8" r="7.6" fill="#d9222c"/><circle cx="262.9" cy="1198.5" r="14.0" fill="#0039c8"/><circle cx="303.2" cy="1201.3" r="14.0" fill="#d9222c"/><circle cx="346.3" cy="1204.1" r="17.6" fill="#d9222c"/><circle cx="404.9" cy="1191.8" r="19.8" fill="#d9222c"/><circle cx="131.4" cy="1223.8" r="11.8" fill="#0039c8"/><circle cx="177.7" cy="1221.5" r="8.5" fill="#d9222c"/><circle cx="197.4" cy="1224.3" r="7.6" fill="#d9222c"/><circle cx="228.8" cy="1217.7" r="7.6" fill="#d9222c"/><circle cx="264.4" cy="1237.4" r="10.4" fill="#d9222c"/><circle cx="303.2" cy="1246.3" r="10.4" fill="#0039c8"/><circle cx="342.1" cy="1246.3" r="14.3" fill="#d9222c"/><circle cx="375.8" cy="1235" r="18.5" fill="#d9222c"/><circle cx="409.8" cy="1230.2" r="13.8" fill="#0039c8"/><circle cx="116.1" cy="1268.6" r="33.5" fill="#0039c8"/><circle cx="162.7" cy="1255.3" r="10.8" fill="#d9222c"/><circle cx="189.9" cy="1254.4" r="10.8" fill="#d9222c"/><circle cx="229.3" cy="1248" r="9.2" fill="#d9222c"/><circle cx="204.4" cy="1277.3" r="13.1" fill="#0039c8"/><circle cx="234.9" cy="1276.8" r="10.8" fill="#d9222c"/><circle cx="166.5" cy="1301.7" r="14.5" fill="#0b7c66"/><circle cx="197.9" cy="1316.6" r="9.8" fill="#0039c8"/><circle cx="237.7" cy="1310.6" r="11.5" fill="#d9222c"/><circle cx="238.9" cy="1355.1" r="27.9" fill="#d9222c"/><circle cx="113.6" cy="1367.2" r="7.6" fill="#d9222c"/><circle cx="178.2" cy="1367.2" r="8.5" fill="#0039c8"/><circle cx="499.9" cy="1114.4" r="8.7" fill="#0039c8"/><circle cx="468.5" cy="1129.8" r="7.6" fill="#0039c8"/><circle cx="488.2" cy="1134.5" r="8.5" fill="#0039c8"/><circle cx="441.6" cy="1154.4" r="24.6" fill="#0039c8"/><circle cx="484.4" cy="1160.3" r="14.7" fill="#0039c8"/><circle cx="469" cy="1188.8" r="11.5" fill="#0039c8"/><circle cx="493.3" cy="1187.4" r="8.5" fill="#0039c8"/><circle cx="443.7" cy="1202.9" r="16.4" fill="#0039c8"/><circle cx="447.9" cy="1228.6" r="7.4" fill="#0039c8"/><circle cx="281.2" cy="1278.7" r="14.0" fill="#d9222c"/><circle cx="341.2" cy="1278.7" r="12.4" fill="#d9222c"/><circle cx="370.2" cy="1272.6" r="9.4" fill="#d9222c"/><circle cx="412.4" cy="1262.8" r="16.2" fill="#0039c8"/><circle cx="278.4" cy="1307.8" r="11" fill="#d9222c"/><circle cx="317.8" cy="1302.6" r="14.5" fill="#d9222c"/><circle cx="364.6" cy="1313.4" r="17.8" fill="#d9222c"/><circle cx="405.3" cy="1298.4" r="17.3" fill="#d9222c"/><circle cx="278.9" cy="1340.5" r="12.2" fill="#d9222c"/><circle cx="313.5" cy="1332.1" r="10.8" fill="#d9222c"/><circle cx="342.6" cy="1338.2" r="13.1" fill="#d9222c"/><circle cx="396.9" cy="1330.2" r="12.9" fill="#d9222c"/><circle cx="394.1" cy="1372.9" r="24.4" fill="#d9222c"/></svg>
<svg class="ov" style="left:290px;top:1899.4px" width="44" height="12" viewBox="290 1899.4 44 12"><circle cx="299.9" cy="1905.4" r="4.6" fill="#0b5ca6"/><circle cx="312.5" cy="1905.4" r="3.1" fill="#858585"/><circle cx="325.4" cy="1905.4" r="1.5" fill="#6a6a6a"/></svg>
<svg class="ov" style="left:290px;top:2221.5px" width="44" height="12" viewBox="290 2221.5 44 12"><circle cx="299.9" cy="2227.5" r="4.6" fill="#0b5ca6"/><circle cx="312.5" cy="2227.5" r="3.1" fill="#858585"/><circle cx="325.4" cy="2227.5" r="1.5" fill="#6a6a6a"/></svg>
<div class="t" id="t0" style="left:83.30px;top:10.00px;font-size:16.4px;color:#333;transform:scaleX(0.9200);">tages</div>
<div class="t" id="t1" style="left:120.20px;top:10.00px;font-size:16.4px;color:#333;font-weight:700;transform:scaleX(0.7831);">schau</div>
<div class="t" id="t2" style="left:252.20px;top:15.00px;font-size:9.6px;color:#333;transform:scaleX(0.8903);">Sendung verpasst?</div>
<div class="t" id="t3" style="left:53.20px;top:45.00px;font-size:7.6px;color:#444;transform:scaleX(0.9976);">Startseite</div>
<div class="t" id="t4" style="left:98.50px;top:45.00px;font-size:7.6px;color:#444;transform:scaleX(0.9762);">Ausland</div>
<div class="t" id="t5" style="left:138.50px;top:45.00px;font-size:7.6px;color:#444;transform:scaleX(0.9570);">US-Wahl 2024</div>
<div class="t" id="t6" style="left:199.30px;top:45.00px;font-size:7.6px;color:#444;transform:scaleX(0.9396);">US-Wahl 2024: Die Ergebnisse</div>
<div class="t" id="t7" style="left:233.50px;top:68.00px;font-size:21px;color:#1b619f;transform:scaleX(0.8962);">US-WAHL 2024</div>
<div class="t" id="t8" style="left:135.00px;top:110.00px;font-size:8.2px;color:#333;transform:scaleX(0.9915);">Startseite</div>
<div class="t" id="t9" style="left:184.30px;top:110.00px;font-size:8.2px;color:#222;font-weight:700;transform:scaleX(0.8496);">Ergebnisse</div>
<div class="t" id="t10" style="left:236.80px;top:110.00px;font-size:8.2px;color:#333;transform:scaleX(0.9701);">Kandidaten</div>
<div class="t" id="t11" style="left:291.50px;top:110.00px;font-size:8.2px;color:#333;transform:scaleX(0.9485);">Themen</div>
<div class="t" id="t12" style="left:335.60px;top:110.00px;font-size:8.2px;color:#333;transform:scaleX(0.9782);">Vorwahlen</div>
<div class="t" id="t13" style="left:388.50px;top:110.00px;font-size:8.2px;color:#333;transform:scaleX(0.9282);">Wahl-ABC</div>
<div class="t" id="t14" style="left:245.20px;top:160.00px;font-size:19.3px;color:#1b619f;transform:scaleX(0.8702);">ERGEBNISSE</div>
<div class="t" id="t15" style="left:131.60px;top:192.00px;font-size:9.9px;color:#333333;transform:scaleX(0.9775);">US-Wahl 2024 - So haben die einzelnen US-Bundesstaaten gewählt: Die</div>
<div class="t" id="t16" style="left:131.60px;top:205.00px;font-size:9.9px;color:#333333;transform:scaleX(0.9827);">Ergebnisse der Präsidentschaftswahl und der Wahlen zum Senat und</div>
<div class="t" id="t17" style="left:131.60px;top:218.00px;font-size:9.9px;color:#333333;transform:scaleX(0.9941);">Repräsentantenhaus in interaktiven Grafiken.</div>
<div class="t" id="t18" style="left:182.40px;top:273.00px;font-size:19.3px;color:#1b619f;transform:scaleX(0.9227);">PRÄSIDENTSCHAFTSWAHL</div>
<div class="t" id="t19" style="left:242.00px;top:305.00px;font-size:7.8px;color:#333;transform:scaleX(1.0091);">Mehrheit: 270 Stimmen, offen: 11</div>
<div class="t" id="t20" style="left:59.40px;top:407.00px;font-size:7.6px;color:#333;transform:scaleX(0.9333);">Kamala Harris</div>
<div class="t" id="t21" style="left:495.50px;top:407.00px;font-size:7.6px;color:#333;transform:scaleX(0.9433);">Donald Trump</div>
<div class="t" id="t22" style="left:59.60px;top:425.00px;font-size:9.8px;color:#fff;transform:scaleX(0.9597);">226</div>
<div class="t" id="t23" style="left:524.30px;top:425.00px;font-size:9.8px;color:#fff;transform:scaleX(0.9597);">301</div>
<div class="t" id="t24" style="left:450.60px;top:454.00px;font-size:7.0px;color:#333;transform:scaleX(0.9303);">Quelle: NEP/Edison via Reuters</div>
<div class="t" id="t25" style="left:132.00px;top:494.00px;font-size:12.6px;color:#1b619f;transform:scaleX(0.9822);">Ergebnisse in den Bundesstaaten</div>
<div class="t" id="t26" style="left:132.00px;top:517.00px;font-size:9.8px;color:#333333;">Die Präsidentschaftswahl entscheidet sich letztlich im Electoral College, in</div>
<div class="t" id="t27" style="left:132.00px;top:530.00px;font-size:9.8px;color:#333333;transform:scaleX(0.9931);">das die Bundesstaaten abhängig von ihrer Bevölkerungszahl unterschiedlich</div>
<div class="t" id="t28" style="left:132.00px;top:542.00px;font-size:9.8px;color:#333333;transform:scaleX(1.0100);">viele Wahlleute entsenden dürfen. Die Präsidentschaftswahl ist damit</div>
<div class="t" id="t29" style="left:132.00px;top:555.00px;font-size:9.8px;color:#333333;transform:scaleX(0.9899);">letztlich das Ergebnis einer Summe von Einzelwahlen in den Bundesstaaten.</div>
<div class="t" id="t30" style="left:132.00px;top:568.00px;font-size:9.8px;color:#333333;transform:scaleX(0.9841);">Die Ergebnisse in den Bundesstaaten im Detail.</div>
<div class="t" id="t31" style="left:47.20px;top:603.00px;font-size:9.2px;color:#222;font-weight:700;transform:scaleX(0.9851);">Präsidentschaftswahl 2024</div>
<div class="t" id="t32" style="left:131.00px;top:898.00px;font-size:8.0px;color:#333;transform:scaleX(0.9591);">Noch nicht ausgezählt</div>
<div class="t" id="t33" style="left:224.80px;top:898.00px;font-size:8.0px;color:#333;transform:scaleX(0.9838);">Auszählung läuft</div>
<div class="t" id="t34" style="left:301.10px;top:898.00px;font-size:8.0px;color:#333;transform:scaleX(0.9546);">Kopf-an-Kopf</div>
<div class="t" id="t35" style="left:364.30px;top:898.00px;font-size:8.0px;color:#333;transform:scaleX(0.9529);">Kamala Harris</div>
<div class="t" id="t36" style="left:430.80px;top:898.00px;font-size:8.0px;color:#333;transform:scaleX(0.9612);">Donald Trump</div>
<div class="t" id="t37" style="left:47.20px;top:915.00px;font-size:7.0px;color:#333;transform:scaleX(0.9252);">Quelle: NEP/Edison via Reuters</div>
<div class="t" id="t38" style="left:132.00px;top:955.00px;font-size:12.6px;color:#1b619f;transform:scaleX(0.9767);">Ergebnisse nach Größe der Bundesstaaten</div>
<div class="t" id="t39" style="left:132.00px;top:979.00px;font-size:9.8px;color:#333333;transform:scaleX(1.0018);">Diese Darstellung veranschaulicht die unterschiedliche Bedeutung der</div>
<div class="t" id="t40" style="left:132.00px;top:992.00px;font-size:9.8px;color:#333333;transform:scaleX(0.9891);">Bundesstaaten für den Wahlausgang. Größere Kreise stehen für eine höhere</div>
<div class="t" id="t41" style="left:132.00px;top:1004.00px;font-size:9.8px;color:#333333;transform:scaleX(0.9852);">Zahl von Wahlleuten, die die Bundesstaaten in das Electoral College</div>
<div class="t" id="t42" style="left:132.00px;top:1017.00px;font-size:9.8px;color:#333333;transform:scaleX(0.9986);">entsenden. In den meisten Bundesstaaten gehen alle Stimmen der Wahlleute</div>
<div class="t" id="t43" style="left:132.00px;top:1030.00px;font-size:9.8px;color:#333333;transform:scaleX(1.0071);">an den Präsidentschaftskandidaten oder die Präsidentschaftskandidatin mit</div>
<div class="t" id="t44" style="left:132.00px;top:1042.00px;font-size:9.8px;color:#333333;">den meisten Stimmen.</div>
<div class="t" id="t45" style="left:47.20px;top:1077.00px;font-size:9.2px;color:#222;font-weight:700;transform:scaleX(0.9851);">Präsidentschaftswahl 2024</div>
<div class="t" id="t46" style="left:131.00px;top:1421.00px;font-size:8.0px;color:#333;transform:scaleX(0.9591);">Noch nicht ausgezählt</div>
<div class="t" id="t47" style="left:224.80px;top:1421.00px;font-size:8.0px;color:#333;transform:scaleX(0.9838);">Auszählung läuft</div>
<div class="t" id="t48" style="left:301.10px;top:1421.00px;font-size:8.0px;color:#333;transform:scaleX(0.9546);">Kopf-an-Kopf</div>
<div class="t" id="t49" style="left:364.30px;top:1421.00px;font-size:8.0px;color:#333;transform:scaleX(0.9529);">Kamala Harris</div>
<div class="t" id="t50" style="left:430.80px;top:1421.00px;font-size:8.0px;color:#333;transform:scaleX(0.9612);">Donald Trump</div>
<div class="t" id="t51" style="left:47.20px;top:1439.00px;font-size:7.0px;color:#333;transform:scaleX(0.9252);">Quelle: NEP/Edison via Reuters</div>
<div class="t" id="t52" style="left:146.14px;top:1187.00px;font-size:9.8px;color:#fff;font-weight:700;transform:scaleX(0.9200);">WA</div>
<div class="t" id="t53" style="left:184.79px;top:1187.00px;font-size:9.8px;color:#fff;font-weight:700;transform:scaleX(0.9200);">MT</div>
<div class="t" id="t54" style="left:222.29px;top:1190.00px;font-size:9.8px;color:#fff;font-weight:700;transform:scaleX(0.9200);">ND</div>
<div class="t" id="t55" style="left:255.88px;top:1194.00px;font-size:9.8px;color:#fff;font-weight:700;transform:scaleX(0.9200);">MN</div>
<div class="t" id="t56" style="left:297.69px;top:1197.00px;font-size:9.8px;color:#fff;font-weight:700;transform:scaleX(0.9200);">WI</div>
<div class="t" id="t57" style="left:341.29px;top:1200.00px;font-size:9.8px;color:#fff;font-weight:700;transform:scaleX(0.9200);">MI</div>
<div class="t" id="t58" style="left:398.97px;top:1187.00px;font-size:9.8px;color:#fff;font-weight:700;transform:scaleX(0.9200);">PA</div>
<div class="t" id="t59" style="left:124.64px;top:1219.00px;font-size:9.8px;color:#fff;font-weight:700;transform:scaleX(0.9200);">OR</div>
<div class="t" id="t60" style="left:173.19px;top:1217.00px;font-size:9.8px;color:#fff;font-weight:700;transform:scaleX(0.9200);">ID</div>
<div class="t" id="t61" style="left:190.14px;top:1220.00px;font-size:9.8px;color:#fff;font-weight:700;transform:scaleX(0.9200);">WY</div>
<div class="t" id="t62" style="left:222.53px;top:1213.00px;font-size:9.8px;color:#fff;font-weight:700;transform:scaleX(0.9200);">SD</div>
<div class="t" id="t63" style="left:259.89px;top:1233.00px;font-size:9.8px;color:#fff;font-weight:700;transform:scaleX(0.9200);">IA</div>
<div class="t" id="t64" style="left:299.19px;top:1242.00px;font-size:9.8px;color:#fff;font-weight:700;transform:scaleX(0.9200);">IL</div>
<div class="t" id="t65" style="left:337.59px;top:1242.00px;font-size:9.8px;color:#fff;font-weight:700;transform:scaleX(0.9200);">IN</div>
<div class="t" id="t66" style="left:369.04px;top:1231.00px;font-size:9.8px;color:#fff;font-weight:700;transform:scaleX(0.9200);">OH</div>
<div class="t" id="t67" style="left:402.79px;top:1226.00px;font-size:9.8px;color:#fff;font-weight:700;transform:scaleX(0.9200);">MD</div>
<div class="t" id="t68" style="left:109.59px;top:1264.00px;font-size:9.8px;color:#fff;font-weight:700;transform:scaleX(0.9200);">CA</div>
<div class="t" id="t69" style="left:156.43px;top:1251.00px;font-size:9.8px;color:#fff;font-weight:700;transform:scaleX(0.9200);">NV</div>
<div class="t" id="t70" style="left:183.89px;top:1250.00px;font-size:9.8px;color:#fff;font-weight:700;transform:scaleX(0.9200);">UT</div>
<div class="t" id="t71" style="left:223.03px;top:1244.00px;font-size:9.8px;color:#fff;font-weight:700;transform:scaleX(0.9200);">NE</div>
<div class="t" id="t72" style="left:197.64px;top:1273.00px;font-size:9.8px;color:#fff;font-weight:700;transform:scaleX(0.9200);">CO</div>
<div class="t" id="t73" style="left:228.63px;top:1272.00px;font-size:9.8px;color:#fff;font-weight:700;transform:scaleX(0.9200);">KS</div>
<div class="t" id="t74" style="left:160.49px;top:1297.00px;font-size:9.8px;color:#fff;font-weight:700;transform:scaleX(0.9200);">AZ</div>
<div class="t" id="t75" style="left:190.88px;top:1312.00px;font-size:9.8px;color:#fff;font-weight:700;transform:scaleX(0.9200);">NM</div>
<div class="t" id="t76" style="left:230.94px;top:1306.00px;font-size:9.8px;color:#fff;font-weight:700;transform:scaleX(0.9200);">OK</div>
<div class="t" id="t77" style="left:233.14px;top:1351.00px;font-size:9.8px;color:#fff;font-weight:700;transform:scaleX(0.9200);">TX</div>
<div class="t" id="t78" style="left:107.09px;top:1363.00px;font-size:9.8px;color:#fff;font-weight:700;transform:scaleX(0.9200);">AK</div>
<div class="t" id="t79" style="left:173.69px;top:1363.00px;font-size:9.8px;color:#fff;font-weight:700;transform:scaleX(0.9200);">HI</div>
<div class="t" id="t80" style="left:493.14px;top:1110.00px;font-size:9.8px;color:#fff;font-weight:700;transform:scaleX(0.9200);">ME</div>
<div class="t" id="t81" style="left:462.74px;top:1125.00px;font-size:9.8px;color:#fff;font-weight:700;transform:scaleX(0.9200);">VT</div>
<div class="t" id="t82" style="left:481.69px;top:1130.00px;font-size:9.8px;color:#fff;font-weight:700;transform:scaleX(0.9200);">NH</div>
<div class="t" id="t83" style="left:435.33px;top:1150.00px;font-size:9.8px;color:#fff;font-weight:700;transform:scaleX(0.9200);">NY</div>
<div class="t" id="t84" style="left:477.38px;top:1156.00px;font-size:9.8px;color:#fff;font-weight:700;transform:scaleX(0.9200);">MA</div>
<div class="t" id="t85" style="left:462.99px;top:1184.00px;font-size:9.8px;color:#fff;font-weight:700;transform:scaleX(0.9200);">CT</div>
<div class="t" id="t86" style="left:488.79px;top:1183.00px;font-size:9.8px;color:#fff;font-weight:700;transform:scaleX(0.9200);">RI</div>
<div class="t" id="t87" style="left:437.94px;top:1198.00px;font-size:9.8px;color:#fff;font-weight:700;transform:scaleX(0.9200);">NJ</div>
<div class="t" id="t88" style="left:441.63px;top:1224.00px;font-size:9.8px;color:#fff;font-weight:700;transform:scaleX(0.9200);">DE</div>
<div class="t" id="t89" style="left:273.94px;top:1274.00px;font-size:9.8px;color:#fff;font-weight:700;transform:scaleX(0.9200);">MO</div>
<div class="t" id="t90" style="left:334.93px;top:1274.00px;font-size:9.8px;color:#fff;font-weight:700;transform:scaleX(0.9200);">KY</div>
<div class="t" id="t91" style="left:362.94px;top:1268.00px;font-size:9.8px;color:#fff;font-weight:700;transform:scaleX(0.9200);">WV</div>
<div class="t" id="t92" style="left:406.47px;top:1258.00px;font-size:9.8px;color:#fff;font-weight:700;transform:scaleX(0.9200);">VA</div>
<div class="t" id="t93" style="left:271.89px;top:1303.00px;font-size:9.8px;color:#fff;font-weight:700;transform:scaleX(0.9200);">AR</div>
<div class="t" id="t94" style="left:311.79px;top:1298.00px;font-size:9.8px;color:#fff;font-weight:700;transform:scaleX(0.9200);">TN</div>
<div class="t" id="t95" style="left:357.84px;top:1309.00px;font-size:9.8px;color:#fff;font-weight:700;transform:scaleX(0.9200);">GA</div>
<div class="t" id="t96" style="left:398.79px;top:1294.00px;font-size:9.8px;color:#fff;font-weight:700;transform:scaleX(0.9200);">NC</div>
<div class="t" id="t97" style="left:272.89px;top:1336.00px;font-size:9.8px;color:#fff;font-weight:700;transform:scaleX(0.9200);">LA</div>
<div class="t" id="t98" style="left:306.74px;top:1328.00px;font-size:9.8px;color:#fff;font-weight:700;transform:scaleX(0.9200);">MS</div>
<div class="t" id="t99" style="left:336.59px;top:1334.00px;font-size:9.8px;color:#fff;font-weight:700;transform:scaleX(0.9200);">AL</div>
<div class="t" id="t100" style="left:390.63px;top:1326.00px;font-size:9.8px;color:#fff;font-weight:700;transform:scaleX(0.9200);">SC</div>
<div class="t" id="t101" style="left:388.59px;top:1368.00px;font-size:9.8px;color:#fff;font-weight:700;transform:scaleX(0.9200);">FL</div>
<div class="t" id="t102" style="left:138.75px;top:642.00px;font-size:7.0px;color:#fff;font-weight:700;transform:scaleX(0.9300);">WA</div>
<div class="t" id="t103" style="left:125.12px;top:672.00px;font-size:7.0px;color:#fff;font-weight:700;transform:scaleX(0.9300);">OR</div>
<div class="t" id="t104" style="left:115.59px;top:748.00px;font-size:7.0px;color:#fff;font-weight:700;transform:scaleX(0.9300);">CA</div>
<div class="t" id="t105" style="left:143.77px;top:725.00px;font-size:7.0px;color:#fff;font-weight:700;transform:scaleX(0.9300);">NV</div>
<div class="t" id="t106" style="left:172.25px;top:686.00px;font-size:7.0px;color:#fff;font-weight:700;transform:scaleX(0.9300);">ID</div>
<div class="t" id="t107" style="left:207.30px;top:660.00px;font-size:7.0px;color:#fff;font-weight:700;transform:scaleX(0.9300);">MT</div>
<div class="t" id="t108" style="left:216.35px;top:700.00px;font-size:7.0px;color:#fff;font-weight:700;transform:scaleX(0.9300);">WY</div>
<div class="t" id="t109" style="left:181.66px;top:736.00px;font-size:7.0px;color:#fff;font-weight:700;transform:scaleX(0.9300);">UT</div>
<div class="t" id="t110" style="left:226.12px;top:743.00px;font-size:7.0px;color:#fff;font-weight:700;transform:scaleX(0.9300);">CO</div>
<div class="t" id="t111" style="left:173.66px;top:782.00px;font-size:7.0px;color:#fff;font-weight:700;transform:scaleX(0.9300);">AZ</div>
<div class="t" id="t112" style="left:218.94px;top:785.00px;font-size:7.0px;color:#fff;font-weight:700;transform:scaleX(0.9300);">NM</div>
<div class="t" id="t113" style="left:270.49px;top:661.00px;font-size:7.0px;color:#fff;font-weight:700;transform:scaleX(0.9300);">ND</div>
<div class="t" id="t114" style="left:269.47px;top:690.00px;font-size:7.0px;color:#fff;font-weight:700;transform:scaleX(0.9300);">SD</div>
<div class="t" id="t115" style="left:263.07px;top:720.00px;font-size:7.0px;color:#fff;font-weight:700;transform:scaleX(0.9300);">NE</div>
<div class="t" id="t116" style="left:283.47px;top:750.00px;font-size:7.0px;color:#fff;font-weight:700;transform:scaleX(0.9300);">KS</div>
<div class="t" id="t117" style="left:290.12px;top:782.00px;font-size:7.0px;color:#fff;font-weight:700;transform:scaleX(0.9300);">OK</div>
<div class="t" id="t118" style="left:275.14px;top:817.00px;font-size:7.0px;color:#fff;font-weight:700;transform:scaleX(0.9300);">TX</div>
<div class="t" id="t119" style="left:311.44px;top:674.00px;font-size:7.0px;color:#fff;font-weight:700;transform:scaleX(0.9300);">MN</div>
<div class="t" id="t120" style="left:322.25px;top:713.00px;font-size:7.0px;color:#fff;font-weight:700;transform:scaleX(0.9300);">IA</div>
<div class="t" id="t121" style="left:330.35px;top:752.00px;font-size:7.0px;color:#fff;font-weight:700;transform:scaleX(0.9300);">MO</div>
<div class="t" id="t122" style="left:330.79px;top:786.00px;font-size:7.0px;color:#fff;font-weight:700;transform:scaleX(0.9300);">AR</div>
<div class="t" id="t123" style="left:331.96px;top:817.00px;font-size:7.0px;color:#fff;font-weight:700;transform:scaleX(0.9300);">LA</div>
<div class="t" id="t124" style="left:344.22px;top:687.00px;font-size:7.0px;color:#fff;font-weight:700;transform:scaleX(0.9300);">WI</div>
<div class="t" id="t125" style="left:356.70px;top:732.00px;font-size:7.0px;color:#fff;font-weight:700;transform:scaleX(0.9300);">IL</div>
<div class="t" id="t126" style="left:379.35px;top:732.00px;font-size:7.0px;color:#fff;font-weight:700;transform:scaleX(0.9300);">IN</div>
<div class="t" id="t127" style="left:384.88px;top:702.00px;font-size:7.0px;color:#fff;font-weight:700;transform:scaleX(0.9300);">MI</div>
<div class="t" id="t128" style="left:400.12px;top:727.00px;font-size:7.0px;color:#fff;font-weight:700;transform:scaleX(0.9300);">OH</div>
<div class="t" id="t129" style="left:392.07px;top:755.00px;font-size:7.0px;color:#fff;font-weight:700;transform:scaleX(0.9300);">KY</div>
<div class="t" id="t130" style="left:380.66px;top:774.00px;font-size:7.0px;color:#fff;font-weight:700;transform:scaleX(0.9300);">TN</div>
<div class="t" id="t131" style="left:354.62px;top:803.00px;font-size:7.0px;color:#fff;font-weight:700;transform:scaleX(0.9300);">MS</div>
<div class="t" id="t132" style="left:380.66px;top:803.00px;font-size:7.0px;color:#fff;font-weight:700;transform:scaleX(0.9300);">AL</div>
<div class="t" id="t133" style="left:408.72px;top:803.00px;font-size:7.0px;color:#fff;font-weight:700;transform:scaleX(0.9300);">GA</div>
<div class="t" id="t134" style="left:434.72px;top:852.00px;font-size:7.0px;color:#fff;font-weight:700;transform:scaleX(0.9300);">FL</div>
<div class="t" id="t135" style="left:428.47px;top:787.00px;font-size:7.0px;color:#fff;font-weight:700;transform:scaleX(0.9300);">SC</div>
<div class="t" id="t136" style="left:439.09px;top:767.00px;font-size:7.0px;color:#fff;font-weight:700;transform:scaleX(0.9300);">NC</div>
<div class="t" id="t137" style="left:442.71px;top:747.00px;font-size:7.0px;color:#fff;font-weight:700;transform:scaleX(0.9300);">VA</div>
<div class="t" id="t138" style="left:416.75px;top:741.00px;font-size:7.0px;color:#fff;font-weight:700;transform:scaleX(0.9300);">WV</div>
<div class="t" id="t139" style="left:440.71px;top:713.00px;font-size:7.0px;color:#fff;font-weight:700;transform:scaleX(0.9300);">PA</div>
<div class="t" id="t140" style="left:453.47px;top:689.00px;font-size:7.0px;color:#fff;font-weight:700;transform:scaleX(0.9300);">NY</div>
<div class="t" id="t141" style="left:462.43px;top:714.00px;font-size:6.0px;color:#fff;font-weight:700;transform:scaleX(0.9300);">NJ</div>
<div class="t" id="t142" style="left:463.63px;top:666.00px;font-size:6.0px;color:#fff;font-weight:700;transform:scaleX(0.9300);">VT</div>
<div class="t" id="t143" style="left:472.17px;top:672.00px;font-size:6.0px;color:#fff;font-weight:700;transform:scaleX(0.9300);">NH</div>
<div class="t" id="t144" style="left:484.62px;top:652.00px;font-size:7.0px;color:#fff;font-weight:700;transform:scaleX(0.9300);">ME</div>
<div class="t" id="t145" style="left:474.26px;top:683.00px;font-size:6.0px;color:#fff;font-weight:700;transform:scaleX(0.9300);">MA</div>
<div class="t" id="t146" style="left:471.28px;top:692.00px;font-size:6.0px;color:#fff;font-weight:700;transform:scaleX(0.9300);">CT</div>
<div class="t" id="t147" style="left:122.29px;top:845.00px;font-size:7.0px;color:#fff;font-weight:700;transform:scaleX(0.9300);">AK</div>
<div class="t" id="t148" style="left:218.34px;top:869.00px;font-size:7.0px;color:#fff;font-weight:700;transform:scaleX(0.9300);">HI</div>
<div class="t" id="t149" style="left:494.25px;top:709.00px;font-size:7.0px;color:#fff;font-weight:700;transform:scaleX(0.9300);">RI</div>
<div class="t" id="t150" style="left:492.97px;top:727.00px;font-size:7.0px;color:#fff;font-weight:700;transform:scaleX(0.9300);">DE</div>
<div class="t" id="t151" style="left:492.44px;top:745.00px;font-size:7.0px;color:#fff;font-weight:700;transform:scaleX(0.9300);">MD</div>
<div class="t" id="t152" style="left:492.79px;top:764.00px;font-size:7.0px;color:#fff;font-weight:700;transform:scaleX(0.9300);">DC</div>
<div class="t" id="t153" style="left:132.00px;top:1487.00px;font-size:12.6px;color:#1b619f;transform:scaleX(0.9893);">Umfragen zu Gründen des Wahlergebnisses</div>
<div class="t" id="t154" style="left:132.00px;top:1510.00px;font-size:9.8px;color:#333333;transform:scaleX(0.9936);">In Befragungen vor und nach der Wahl haben US-Forschungsinstitute die</div>
<div class="t" id="t155" style="left:132.00px;top:1523.00px;font-size:9.8px;color:#333333;transform:scaleX(0.9920);">Gründe für das Abschneiden von Donald Trump und Kamala Harris</div>
<div class="t" id="t156" style="left:132.00px;top:1535.00px;font-size:9.8px;color:#333333;transform:scaleX(1.0058);">untersucht und auch nach den Gründen für die Wahlentscheidung und die</div>
<div class="t" id="t157" style="left:132.00px;top:1548.00px;font-size:9.8px;color:#333333;transform:scaleX(1.0044);">Stimmung im Land gefragt. Die Ergebnisse liefern wichtige Anhaltspunkte zu</div>
<div class="t" id="t158" style="left:132.00px;top:1561.00px;font-size:9.8px;color:#333333;transform:scaleX(0.9810);">den Ursachen des Ergebnisses und zum Wahlverhalten der verschiedenen</div>
<div class="t" id="t159" style="left:132.00px;top:1574.00px;font-size:9.8px;color:#333333;transform:scaleX(0.9842);">Bevölkerungsgruppen.</div>
<div class="t" id="t160" style="left:67.30px;top:1622.00px;font-size:12.4px;color:#222;font-weight:700;">US-Wahl 2024</div>
<div class="t" id="t161" style="left:67.30px;top:1640.00px;font-size:15.8px;color:#222;transform:scaleX(0.9874);">Wahlverhalten in Bevölkerungsgruppen</div>
<div class="t" id="t162" style="left:252.70px;top:1743.00px;font-size:7.2px;color:#333;transform:scaleX(1.0693);">Harris</div>
<div class="t" id="t163" style="left:326.00px;top:1743.00px;font-size:7.2px;color:#333;transform:scaleX(1.1220);">Trump</div>
<div class="t" id="t164" style="left:256.70px;top:1769.00px;font-size:9.6px;color:#222;font-weight:700;transform:scaleX(1.0963);">41</div>
<div class="t" id="t165" style="left:331.60px;top:1769.00px;font-size:9.6px;color:#222;font-weight:700;transform:scaleX(1.0776);">57</div>
<div class="t" id="t166" style="left:289.00px;top:1770.00px;font-size:7.0px;color:#333;transform:scaleX(1.0940);">Weiße</div>
<div class="t" id="t167" style="left:256.70px;top:1804.00px;font-size:9.6px;color:#222;font-weight:700;transform:scaleX(1.0963);">85</div>
<div class="t" id="t168" style="left:331.60px;top:1804.00px;font-size:9.6px;color:#222;font-weight:700;transform:scaleX(1.0776);">13</div>
<div class="t" id="t169" style="left:283.80px;top:1805.00px;font-size:7.0px;color:#333;transform:scaleX(1.0379);">Schwarze</div>
<div class="t" id="t170" style="left:256.70px;top:1838.00px;font-size:9.6px;color:#222;font-weight:700;transform:scaleX(1.0963);">52</div>
<div class="t" id="t171" style="left:331.60px;top:1838.00px;font-size:9.6px;color:#222;font-weight:700;transform:scaleX(1.0776);">46</div>
<div class="t" id="t172" style="left:283.40px;top:1840.00px;font-size:7.0px;color:#333;transform:scaleX(1.0639);">Hispanics</div>
<div class="t" id="t173" style="left:66.70px;top:1872.00px;font-size:7.2px;color:#1d4e8f;font-weight:700;transform:scaleX(0.8927);">infratest dimap</div>
<div class="t" id="t174" style="left:267.00px;top:1873.00px;font-size:6.0px;color:#333;transform:scaleX(1.0833);">Stand:  06.11.2024, 20:52 Uhr</div>
<div class="t" id="t175" style="left:387.50px;top:1873.00px;font-size:6.0px;color:#333;transform:scaleX(1.0347);">Quelle: NEP/Edison via Reuters</div>
<div class="t" id="t176" style="left:67.30px;top:1944.00px;font-size:12.4px;color:#222;font-weight:700;">US-Wahl 2024</div>
<div class="t" id="t177" style="left:67.30px;top:1963.00px;font-size:15.8px;color:#222;transform:scaleX(0.9776);">Wahlentscheidung erfolgte vor allem aus...</div>
<div class="t" id="t178" style="left:71.90px;top:2009.00px;font-size:8.2px;color:#222;transform:scaleX(1.1055);">Überzeugung von meinem Kandidaten</div>
<div class="t" id="t179" style="left:71.90px;top:2108.00px;font-size:8.2px;color:#222;transform:scaleX(1.0929);">Ablehnung des anderen Kandidaten</div>
<div class="t" id="t180" style="left:71.90px;top:2035.00px;font-size:6.9px;color:#222;transform:scaleX(1.1341);">Harris-Wähler</div>
<div class="t" id="t181" style="left:137.40px;top:2033.00px;font-size:9.6px;color:#222;font-weight:700;transform:scaleX(1.0963);">67</div>
<div class="t" id="t182" style="left:71.90px;top:2068.00px;font-size:6.9px;color:#222;transform:scaleX(1.1535);">Trump-Wähler</div>
<div class="t" id="t183" style="left:137.40px;top:2066.00px;font-size:9.6px;color:#222;font-weight:700;transform:scaleX(1.0963);">80</div>
<div class="t" id="t184" style="left:71.90px;top:2134.00px;font-size:6.9px;color:#222;transform:scaleX(1.1341);">Harris-Wähler</div>
<div class="t" id="t185" style="left:137.40px;top:2131.00px;font-size:9.6px;color:#222;font-weight:700;transform:scaleX(1.0963);">30</div>
<div class="t" id="t186" style="left:71.90px;top:2167.00px;font-size:6.9px;color:#222;transform:scaleX(1.1535);">Trump-Wähler</div>
<div class="t" id="t187" style="left:137.40px;top:2165.00px;font-size:9.6px;color:#222;font-weight:700;transform:scaleX(1.0963);">18</div>
<div class="t" id="t188" style="left:66.70px;top:2194.00px;font-size:7.2px;color:#1d4e8f;font-weight:700;transform:scaleX(0.8927);">infratest dimap</div>
<div class="t" id="t189" style="left:267.00px;top:2195.00px;font-size:6.0px;color:#333;transform:scaleX(1.0833);">Stand:  06.11.2024, 20:52 Uhr</div>
<div class="t" id="t190" style="left:387.50px;top:2195.00px;font-size:6.0px;color:#333;transform:scaleX(1.0347);">Quelle: NEP/Edison via Reuters</div>
<div class="t" id="t191" style="left:141.30px;top:2274.00px;font-size:5.2px;color:#fff;font-weight:700;transform:scaleX(1.0460);">BILDER</div>
<div class="t" id="t192" style="left:138.40px;top:2285.00px;font-size:8.0px;color:#333;transform:scaleX(1.0150);">Infografik</div>
<div class="t" id="t193" style="left:138.40px;top:2296.00px;font-size:12.4px;color:#1b619f;transform:scaleX(0.9318);">Wie die USA auf Trump</div>
<div class="t" id="t194" style="left:138.40px;top:2310.00px;font-size:12.4px;color:#1b619f;transform:scaleX(0.9674);">blicken und wer ihn wählte</div>
<div class="t" id="t195" style="left:403.70px;top:2274.00px;font-size:5.2px;color:#fff;font-weight:700;transform:scaleX(1.0460);">BILDER</div>
<div class="t" id="t196" style="left:400.80px;top:2285.00px;font-size:8.0px;color:#333;transform:scaleX(1.0150);">Infografik</div>
<div class="t" id="t197" style="left:400.80px;top:2296.00px;font-size:12.4px;color:#1b619f;transform:scaleX(0.9313);">Wie die USA auf Harris</div>
<div class="t" id="t198" style="left:400.80px;top:2310.00px;font-size:12.4px;color:#1b619f;transform:scaleX(0.9555);">blicken und wer sie wählte</div>
<div class="t" id="t199" style="left:141.30px;top:2367.00px;font-size:5.2px;color:#fff;font-weight:700;transform:scaleX(1.0460);">BILDER</div>
<div class="t" id="t200" style="left:138.40px;top:2378.00px;font-size:8.0px;color:#333;transform:scaleX(1.0150);">Infografik</div>
<div class="t" id="t201" style="left:138.40px;top:2389.00px;font-size:12.4px;color:#1b619f;transform:scaleX(0.9473);">Wie Trump und Harris im</div>
<div class="t" id="t202" style="left:138.40px;top:2403.00px;font-size:12.4px;color:#1b619f;transform:scaleX(0.9560);">Vergleich bewertet werden</div>
<div class="t" id="t203" style="left:403.70px;top:2367.00px;font-size:5.2px;color:#fff;font-weight:700;transform:scaleX(1.0460);">BILDER</div>
<div class="t" id="t204" style="left:400.80px;top:2378.00px;font-size:8.0px;color:#333;transform:scaleX(1.0150);">Infografik</div>
<div class="t" id="t205" style="left:400.80px;top:2389.00px;font-size:12.4px;color:#1b619f;transform:scaleX(0.9296);">Was die USA bewegt und</div>
<div class="t" id="t206" style="left:400.80px;top:2403.00px;font-size:12.4px;color:#1b619f;transform:scaleX(0.9632);">die Stimmung prägt</div>
<div class="t" id="t207" style="left:133.10px;top:2483.00px;font-size:19.3px;color:#1b619f;transform:scaleX(0.9136);">WAHL DES REPRÄSENTANTENHAUSES</div>
<div class="t" id="t208" style="left:218.40px;top:2683.00px;font-size:19.3px;color:#1b619f;transform:scaleX(0.9071);">WAHL DES SENATS</div>
<div class="t" id="t209" style="left:132.00px;top:2876.00px;font-size:12.6px;color:#1b619f;transform:scaleX(0.9862);">Ergebnisse der Senatswahl in den Bundesstaaten</div>
<div class="t" id="t210" style="left:132.00px;top:2900.00px;font-size:9.8px;color:#333333;transform:scaleX(0.9905);">Etwa ein Drittel der 100 Senatssitze wird alle zwei Jahre neu gewählt. Jeder</div>
<div class="t" id="t211" style="left:132.00px;top:2912.00px;font-size:9.8px;color:#333333;transform:scaleX(0.9920);">Bundesstaat entsendet zwei Senatorinnen oder Senatoren in diese</div>
<div class="t" id="t212" style="left:132.00px;top:2925.00px;font-size:9.8px;color:#333333;transform:scaleX(0.9940);">Kongresskammer. Die Mehrheitsverhältnisse im Senat spielen für die</div>
<div class="t" id="t213" style="left:132.00px;top:2938.00px;font-size:9.8px;color:#333333;transform:scaleX(0.9896);">jeweilige Präsidentschaft eine große Rolle bei vielen</div>
<div class="t" id="t214" style="left:132.00px;top:2950.00px;font-size:9.8px;color:#333333;transform:scaleX(0.9773);">Gesetzgebungsvorhaben. Wie sehen die Ergebnisse der Wahlen um die</div>
<div class="t" id="t215" style="left:132.00px;top:2963.00px;font-size:9.8px;color:#333333;transform:scaleX(0.9733);">Senatssitze 2024 in den Bundesstaaten aus?</div>
<div class="t" id="t216" style="left:195.20px;top:3156.00px;font-size:19.3px;color:#1b619f;transform:scaleX(0.9372);">WAHLEN IM RÜCKBLICK</div>
<div class="t" id="t217" style="left:57.30px;top:3359.00px;font-size:8.7px;color:#222;font-weight:700;transform:scaleX(0.8893);">Service</div>
<div class="t" id="t218" style="left:57.30px;top:3379.00px;font-size:8.7px;color:#222;font-weight:700;transform:scaleX(0.9245);">tagesschau.de</div>
<div class="t" id="t219" style="left:57.30px;top:3400.00px;font-size:8.7px;color:#222;font-weight:700;transform:scaleX(0.9379);">ARD Angebote</div>
<div class="t" id="t220" style="left:57.30px;top:3421.00px;font-size:8.7px;color:#222;font-weight:700;transform:scaleX(0.9635);">Rundfunkanstalten</div>
<div class="t" id="t221" style="left:58.30px;top:3447.00px;font-size:8.7px;color:#555;transform:scaleX(1.0217);">Impressum</div>
<div class="t" id="t222" style="left:58.30px;top:3469.00px;font-size:8.7px;color:#555;transform:scaleX(0.9671);">So erreichen Sie uns</div>
<div class="t" id="t223" style="left:58.30px;top:3490.00px;font-size:8.7px;color:#555;transform:scaleX(1.0306);">Datenschutzerklärung</div>
<div class="t" id="t224" style="left:58.30px;top:3512.00px;font-size:8.7px;color:#555;transform:scaleX(1.0197);">Bildrechte</div>
<div class="t" id="t225" style="left:47.40px;top:3608.00px;font-size:5.6px;color:#777;transform:scaleX(1.0595);">© ARD-aktuell / tagesschau.de</div>
<div class="t" id="t226" style="left:468.50px;top:3585.00px;font-size:6.2px;color:#333;transform:scaleX(0.9759);">Wir sind deins.</div>
<div class="t" id="t227" style="left:509.80px;top:3580.00px;font-size:13.4px;color:#222;font-weight:700;transform:scaleX(0.8271);">ARD</div>
</body></html>
